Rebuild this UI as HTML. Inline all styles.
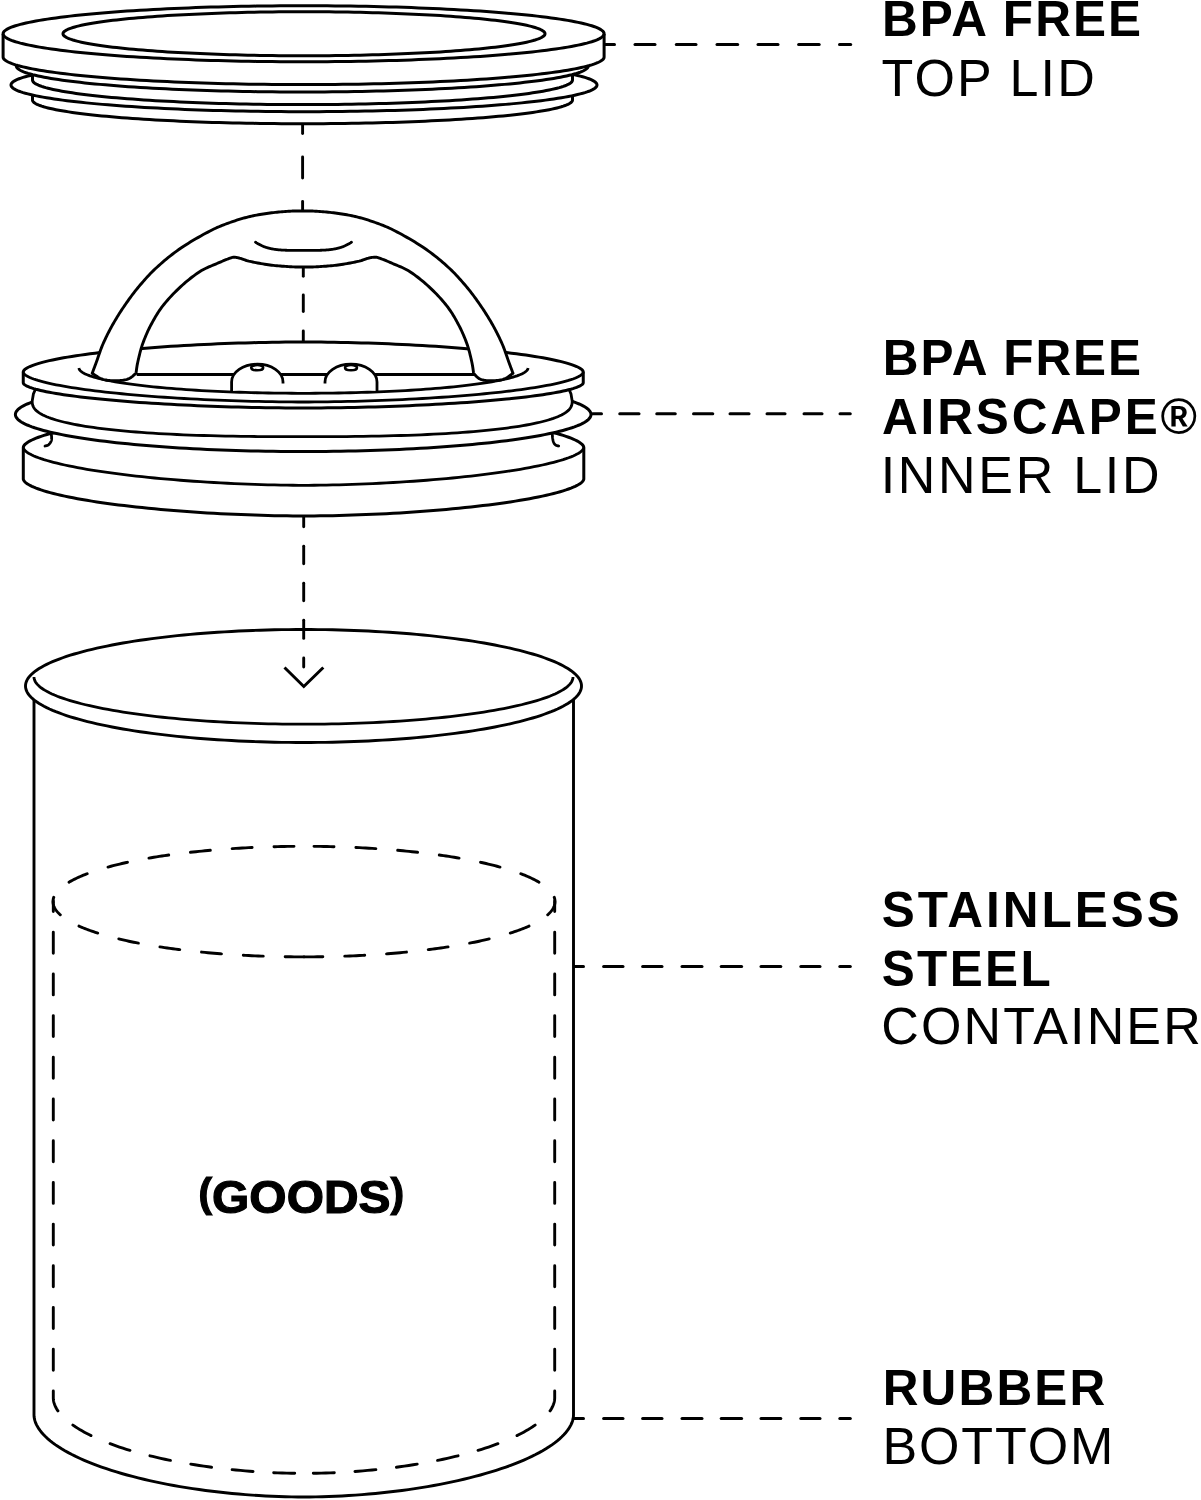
<!DOCTYPE html>
<html><head><meta charset="utf-8"><style>
html,body{margin:0;padding:0;background:#fff;}
body{width:1201px;height:1500px;overflow:hidden;font-family:"Liberation Sans",sans-serif;}
svg{display:block;}
</style></head><body>
<svg width="1201" height="1500" viewBox="0 0 1201 1500">
<defs><filter id="gs" x="-10%" y="-30%" width="120%" height="160%"><feColorMatrix type="saturate" values="0"/></filter></defs>
<rect width="1201" height="1500" fill="#fff"/>
<path d="M32.5 96 L32.59 95.38 L32.87 94.76 L33.33 94.14 L33.98 93.52 L34.81 92.9 L35.82 92.28 L37.02 91.67 L38.4 91.06 L39.96 90.46 L41.7 89.85 L43.62 89.25 L45.71 88.66 L47.99 88.07 L50.43 87.49 L53.05 86.91 L55.84 86.34 L58.8 85.78 L61.93 85.22 L65.22 84.67 L68.67 84.12 L72.29 83.59 L76.06 83.06 L79.99 82.55 L84.07 82.04 L88.29 81.54 L92.67 81.05 L97.19 80.58 L101.85 80.11 L106.65 79.65 L111.58 79.21 L116.64 78.77 L121.83 78.35 L127.15 77.94 L132.58 77.54 L138.13 77.16 L143.8 76.79 L149.57 76.43 L155.45 76.08 L161.43 75.75 L167.5 75.43 L173.67 75.13 L179.92 74.84 L186.26 74.56 L192.68 74.3 L199.18 74.06 L205.74 73.83 L212.37 73.61 L219.07 73.41 L225.82 73.23 L232.62 73.06 L239.47 72.91 L246.36 72.77 L253.3 72.65 L260.26 72.54 L267.26 72.45 L274.28 72.38 L281.32 72.32 L288.37 72.28 L295.43 72.26 L302.5 72.25 L309.57 72.26 L316.63 72.28 L323.68 72.32 L330.72 72.38 L337.74 72.45 L344.74 72.54 L351.7 72.65 L358.64 72.77 L365.53 72.91 L372.38 73.06 L379.18 73.23 L385.93 73.41 L392.63 73.61 L399.26 73.83 L405.82 74.06 L412.32 74.3 L418.74 74.56 L425.08 74.84 L431.33 75.13 L437.5 75.43 L443.57 75.75 L449.55 76.08 L455.43 76.43 L461.2 76.79 L466.87 77.16 L472.42 77.54 L477.85 77.94 L483.17 78.35 L488.36 78.77 L493.42 79.21 L498.35 79.65 L503.15 80.11 L507.81 80.58 L512.33 81.05 L516.71 81.54 L520.93 82.04 L525.01 82.55 L528.94 83.06 L532.71 83.59 L536.33 84.12 L539.78 84.67 L543.07 85.22 L546.2 85.78 L549.16 86.34 L551.95 86.91 L554.57 87.49 L557.01 88.07 L559.29 88.66 L561.38 89.25 L563.3 89.85 L565.04 90.46 L566.6 91.06 L567.98 91.67 L569.18 92.28 L570.19 92.9 L571.02 93.52 L571.67 94.14 L572.13 94.76 L572.41 95.38 L572.5 96 L572.5 100 L572.41 100.62 L572.13 101.24 L571.67 101.86 L571.02 102.48 L570.19 103.1 L569.18 103.72 L567.98 104.33 L566.6 104.94 L565.04 105.54 L563.3 106.15 L561.38 106.75 L559.29 107.34 L557.01 107.93 L554.57 108.51 L551.95 109.09 L549.16 109.66 L546.2 110.22 L543.07 110.78 L539.78 111.33 L536.33 111.88 L532.71 112.41 L528.94 112.94 L525.01 113.45 L520.93 113.96 L516.71 114.46 L512.33 114.95 L507.81 115.42 L503.15 115.89 L498.35 116.35 L493.42 116.79 L488.36 117.23 L483.17 117.65 L477.85 118.06 L472.42 118.46 L466.87 118.84 L461.2 119.21 L455.43 119.57 L449.55 119.92 L443.57 120.25 L437.5 120.57 L431.33 120.87 L425.08 121.16 L418.74 121.44 L412.32 121.7 L405.82 121.94 L399.26 122.17 L392.63 122.39 L385.93 122.59 L379.18 122.77 L372.38 122.94 L365.53 123.09 L358.64 123.23 L351.7 123.35 L344.74 123.46 L337.74 123.55 L330.72 123.62 L323.68 123.68 L316.63 123.72 L309.57 123.74 L302.5 123.75 L295.43 123.74 L288.37 123.72 L281.32 123.68 L274.28 123.62 L267.26 123.55 L260.26 123.46 L253.3 123.35 L246.36 123.23 L239.47 123.09 L232.62 122.94 L225.82 122.77 L219.07 122.59 L212.37 122.39 L205.74 122.17 L199.18 121.94 L192.68 121.7 L186.26 121.44 L179.92 121.16 L173.67 120.87 L167.5 120.57 L161.43 120.25 L155.45 119.92 L149.57 119.57 L143.8 119.21 L138.13 118.84 L132.58 118.46 L127.15 118.06 L121.83 117.65 L116.64 117.23 L111.58 116.79 L106.65 116.35 L101.85 115.89 L97.19 115.42 L92.67 114.95 L88.29 114.46 L84.07 113.96 L79.99 113.45 L76.06 112.94 L72.29 112.41 L68.67 111.88 L65.22 111.33 L61.93 110.78 L58.8 110.22 L55.84 109.66 L53.05 109.09 L50.43 108.51 L47.99 107.93 L45.71 107.34 L43.62 106.75 L41.7 106.15 L39.96 105.54 L38.4 104.94 L37.02 104.33 L35.82 103.72 L34.81 103.1 L33.98 102.48 L33.33 101.86 L32.87 101.24 L32.59 100.62 L32.5 100Z" fill="#fff" stroke="#000" stroke-width="3.0" />
<path d="M597 85 L596.9 85.7 L596.6 86.4 L596.1 87.09 L595.39 87.79 L594.49 88.49 L593.39 89.18 L592.09 89.87 L590.6 90.55 L588.9 91.23 L587.02 91.91 L584.93 92.58 L582.66 93.25 L580.19 93.91 L577.54 94.57 L574.7 95.22 L571.67 95.86 L568.46 96.49 L565.06 97.12 L561.49 97.74 L557.75 98.35 L553.82 98.95 L549.73 99.54 L545.47 100.12 L541.04 100.69 L536.45 101.25 L531.7 101.8 L526.8 102.34 L521.74 102.87 L516.53 103.38 L511.18 103.88 L505.69 104.37 L500.06 104.84 L494.29 105.3 L488.39 105.75 L482.37 106.18 L476.22 106.6 L469.96 107 L463.58 107.39 L457.09 107.77 L450.5 108.12 L443.81 108.46 L437.02 108.79 L430.14 109.1 L423.17 109.39 L416.13 109.67 L409 109.93 L401.81 110.17 L394.54 110.39 L387.22 110.6 L379.83 110.79 L372.4 110.96 L364.92 111.12 L357.4 111.25 L349.84 111.37 L342.24 111.47 L334.63 111.55 L326.99 111.62 L319.33 111.66 L311.67 111.69 L304 111.7 L296.33 111.69 L288.67 111.66 L281.01 111.62 L273.37 111.55 L265.76 111.47 L258.16 111.37 L250.6 111.25 L243.08 111.12 L235.6 110.96 L228.17 110.79 L220.78 110.6 L213.46 110.39 L206.19 110.17 L199 109.93 L191.87 109.67 L184.83 109.39 L177.86 109.1 L170.98 108.79 L164.19 108.46 L157.5 108.12 L150.91 107.77 L144.42 107.39 L138.04 107 L131.78 106.6 L125.63 106.18 L119.61 105.75 L113.71 105.3 L107.94 104.84 L102.31 104.37 L96.82 103.88 L91.47 103.38 L86.26 102.87 L81.2 102.34 L76.3 101.8 L71.55 101.25 L66.96 100.69 L62.53 100.12 L58.27 99.54 L54.18 98.95 L50.25 98.35 L46.51 97.74 L42.94 97.12 L39.54 96.49 L36.33 95.86 L33.3 95.22 L30.46 94.57 L27.81 93.91 L25.34 93.25 L23.07 92.58 L20.98 91.91 L19.1 91.23 L17.4 90.55 L15.91 89.87 L14.61 89.18 L13.51 88.49 L12.61 87.79 L11.9 87.09 L11.4 86.4 L11.1 85.7 L11 85 L11.1 84.3 L11.4 83.6 L11.9 82.91 L12.61 82.21 L13.51 81.51 L14.61 80.82 L15.91 80.13 L17.4 79.45 L19.1 78.77 L20.98 78.09 L23.07 77.42 L25.34 76.75 L27.81 76.09 L30.46 75.43 L33.3 74.78 L36.33 74.14 L39.54 73.51 L42.94 72.88 L46.51 72.26 L50.25 71.65 L54.18 71.05 L58.27 70.46 L62.53 69.88 L66.96 69.31 L71.55 68.75 L76.3 68.2 L81.2 67.66 L86.26 67.13 L91.47 66.62 L96.82 66.12 L102.31 65.63 L107.94 65.16 L113.71 64.7 L119.61 64.25 L125.63 63.82 L131.78 63.4 L138.04 63 L144.42 62.61 L150.91 62.23 L157.5 61.88 L164.19 61.54 L170.98 61.21 L177.86 60.9 L184.83 60.61 L191.87 60.33 L199 60.07 L206.19 59.83 L213.46 59.61 L220.78 59.4 L228.17 59.21 L235.6 59.04 L243.08 58.88 L250.6 58.75 L258.16 58.63 L265.76 58.53 L273.37 58.45 L281.01 58.38 L288.67 58.34 L296.33 58.31 L304 58.3 L311.67 58.31 L319.33 58.34 L326.99 58.38 L334.63 58.45 L342.24 58.53 L349.84 58.63 L357.4 58.75 L364.92 58.88 L372.4 59.04 L379.83 59.21 L387.22 59.4 L394.54 59.61 L401.81 59.83 L409 60.07 L416.13 60.33 L423.17 60.61 L430.14 60.9 L437.02 61.21 L443.81 61.54 L450.5 61.88 L457.09 62.23 L463.58 62.61 L469.96 63 L476.22 63.4 L482.37 63.82 L488.39 64.25 L494.29 64.7 L500.06 65.16 L505.69 65.63 L511.18 66.12 L516.53 66.62 L521.74 67.13 L526.8 67.66 L531.7 68.2 L536.45 68.75 L541.04 69.31 L545.47 69.88 L549.73 70.46 L553.82 71.05 L557.75 71.65 L561.49 72.26 L565.06 72.88 L568.46 73.51 L571.67 74.14 L574.7 74.78 L577.54 75.43 L580.19 76.09 L582.66 76.75 L584.93 77.42 L587.02 78.09 L588.9 78.77 L590.6 79.45 L592.09 80.13 L593.39 80.82 L594.49 81.51 L595.39 82.21 L596.1 82.91 L596.6 83.6 L596.9 84.3 L597 85Z" fill="#fff" stroke="#000" stroke-width="3.0" />
<path d="M32.5 75 L32.59 74.36 L32.87 73.71 L33.33 73.07 L33.98 72.43 L34.81 71.79 L35.82 71.15 L37.02 70.52 L38.4 69.89 L39.96 69.26 L41.7 68.63 L43.62 68.01 L45.71 67.4 L47.99 66.79 L50.43 66.18 L53.05 65.59 L55.84 64.99 L58.8 64.41 L61.93 63.83 L65.22 63.26 L68.67 62.7 L72.29 62.15 L76.06 61.6 L79.99 61.07 L84.07 60.54 L88.29 60.02 L92.67 59.52 L97.19 59.02 L101.85 58.54 L106.65 58.07 L111.58 57.61 L116.64 57.16 L121.83 56.72 L127.15 56.29 L132.58 55.88 L138.13 55.48 L143.8 55.1 L149.57 54.73 L155.45 54.37 L161.43 54.03 L167.5 53.7 L173.67 53.38 L179.92 53.08 L186.26 52.8 L192.68 52.53 L199.18 52.27 L205.74 52.03 L212.37 51.81 L219.07 51.6 L225.82 51.41 L232.62 51.24 L239.47 51.08 L246.36 50.94 L253.3 50.81 L260.26 50.7 L267.26 50.61 L274.28 50.53 L281.32 50.48 L288.37 50.43 L295.43 50.41 L302.5 50.4 L309.57 50.41 L316.63 50.43 L323.68 50.48 L330.72 50.53 L337.74 50.61 L344.74 50.7 L351.7 50.81 L358.64 50.94 L365.53 51.08 L372.38 51.24 L379.18 51.41 L385.93 51.6 L392.63 51.81 L399.26 52.03 L405.82 52.27 L412.32 52.53 L418.74 52.8 L425.08 53.08 L431.33 53.38 L437.5 53.7 L443.57 54.03 L449.55 54.37 L455.43 54.73 L461.2 55.1 L466.87 55.48 L472.42 55.88 L477.85 56.29 L483.17 56.72 L488.36 57.16 L493.42 57.61 L498.35 58.07 L503.15 58.54 L507.81 59.02 L512.33 59.52 L516.71 60.02 L520.93 60.54 L525.01 61.07 L528.94 61.6 L532.71 62.15 L536.33 62.7 L539.78 63.26 L543.07 63.83 L546.2 64.41 L549.16 64.99 L551.95 65.59 L554.57 66.18 L557.01 66.79 L559.29 67.4 L561.38 68.01 L563.3 68.63 L565.04 69.26 L566.6 69.89 L567.98 70.52 L569.18 71.15 L570.19 71.79 L571.02 72.43 L571.67 73.07 L572.13 73.71 L572.41 74.36 L572.5 75 L572.5 80 L572.41 80.64 L572.13 81.29 L571.67 81.93 L571.02 82.57 L570.19 83.21 L569.18 83.85 L567.98 84.48 L566.6 85.11 L565.04 85.74 L563.3 86.37 L561.38 86.99 L559.29 87.6 L557.01 88.21 L554.57 88.82 L551.95 89.41 L549.16 90.01 L546.2 90.59 L543.07 91.17 L539.78 91.74 L536.33 92.3 L532.71 92.85 L528.94 93.4 L525.01 93.93 L520.93 94.46 L516.71 94.98 L512.33 95.48 L507.81 95.98 L503.15 96.46 L498.35 96.93 L493.42 97.39 L488.36 97.84 L483.17 98.28 L477.85 98.71 L472.42 99.12 L466.87 99.52 L461.2 99.9 L455.43 100.27 L449.55 100.63 L443.57 100.97 L437.5 101.3 L431.33 101.62 L425.08 101.92 L418.74 102.2 L412.32 102.47 L405.82 102.73 L399.26 102.97 L392.63 103.19 L385.93 103.4 L379.18 103.59 L372.38 103.76 L365.53 103.92 L358.64 104.06 L351.7 104.19 L344.74 104.3 L337.74 104.39 L330.72 104.47 L323.68 104.52 L316.63 104.57 L309.57 104.59 L302.5 104.6 L295.43 104.59 L288.37 104.57 L281.32 104.52 L274.28 104.47 L267.26 104.39 L260.26 104.3 L253.3 104.19 L246.36 104.06 L239.47 103.92 L232.62 103.76 L225.82 103.59 L219.07 103.4 L212.37 103.19 L205.74 102.97 L199.18 102.73 L192.68 102.47 L186.26 102.2 L179.92 101.92 L173.67 101.62 L167.5 101.3 L161.43 100.97 L155.45 100.63 L149.57 100.27 L143.8 99.9 L138.13 99.52 L132.58 99.12 L127.15 98.71 L121.83 98.28 L116.64 97.84 L111.58 97.39 L106.65 96.93 L101.85 96.46 L97.19 95.98 L92.67 95.48 L88.29 94.98 L84.07 94.46 L79.99 93.93 L76.06 93.4 L72.29 92.85 L68.67 92.3 L65.22 91.74 L61.93 91.17 L58.8 90.59 L55.84 90.01 L53.05 89.41 L50.43 88.82 L47.99 88.21 L45.71 87.6 L43.62 86.99 L41.7 86.37 L39.96 85.74 L38.4 85.11 L37.02 84.48 L35.82 83.85 L34.81 83.21 L33.98 82.57 L33.33 81.93 L32.87 81.29 L32.59 80.64 L32.5 80Z" fill="#fff" stroke="#000" stroke-width="3.0" />
<path d="M588.3 66 L588.2 66.68 L587.91 67.36 L587.42 68.04 L586.73 68.72 L585.85 69.39 L584.78 70.07 L583.51 70.74 L582.05 71.41 L580.4 72.07 L578.55 72.73 L576.52 73.38 L574.3 74.03 L571.9 74.68 L569.3 75.32 L566.53 75.95 L563.57 76.58 L560.44 77.19 L557.13 77.8 L553.64 78.41 L549.98 79 L546.16 79.58 L542.16 80.16 L538 80.73 L533.68 81.28 L529.2 81.83 L524.56 82.36 L519.78 82.89 L514.84 83.4 L509.76 83.9 L504.53 84.38 L499.17 84.86 L493.67 85.32 L488.04 85.77 L482.29 86.21 L476.41 86.63 L470.41 87.03 L464.29 87.43 L458.07 87.81 L451.73 88.17 L445.3 88.52 L438.77 88.85 L432.14 89.17 L425.43 89.47 L418.63 89.75 L411.75 90.02 L404.79 90.27 L397.77 90.51 L390.68 90.73 L383.53 90.93 L376.32 91.11 L369.07 91.28 L361.76 91.43 L354.42 91.56 L347.04 91.68 L339.63 91.78 L332.2 91.86 L324.74 91.92 L317.27 91.96 L309.79 91.99 L302.3 92 L294.81 91.99 L287.33 91.96 L279.86 91.92 L272.4 91.86 L264.97 91.78 L257.56 91.68 L250.18 91.56 L242.84 91.43 L235.53 91.28 L228.28 91.11 L221.07 90.93 L213.92 90.73 L206.83 90.51 L199.81 90.27 L192.85 90.02 L185.97 89.75 L179.17 89.47 L172.46 89.17 L165.83 88.85 L159.3 88.52 L152.87 88.17 L146.53 87.81 L140.31 87.43 L134.19 87.03 L128.19 86.63 L122.31 86.21 L116.56 85.77 L110.93 85.32 L105.43 84.86 L100.07 84.38 L94.84 83.9 L89.76 83.4 L84.82 82.89 L80.04 82.36 L75.4 81.83 L70.92 81.28 L66.6 80.73 L62.44 80.16 L58.44 79.58 L54.62 79 L50.96 78.41 L47.47 77.8 L44.16 77.19 L41.03 76.58 L38.07 75.95 L35.3 75.32 L32.7 74.68 L30.3 74.03 L28.08 73.38 L26.05 72.73 L24.2 72.07 L22.55 71.41 L21.09 70.74 L19.82 70.07 L18.75 69.39 L17.87 68.72 L17.18 68.04 L16.69 67.36 L16.4 66.68 L16.3 66 L16.4 65.32 L16.69 64.64 L17.18 63.96 L17.87 63.28 L18.75 62.61 L19.82 61.93 L21.09 61.26 L22.55 60.59 L24.2 59.93 L26.05 59.27 L28.08 58.62 L30.3 57.97 L32.7 57.32 L35.3 56.68 L38.07 56.05 L41.03 55.42 L44.16 54.81 L47.47 54.2 L50.96 53.59 L54.62 53 L58.44 52.42 L62.44 51.84 L66.6 51.27 L70.92 50.72 L75.4 50.17 L80.04 49.64 L84.82 49.11 L89.76 48.6 L94.84 48.1 L100.07 47.62 L105.43 47.14 L110.93 46.68 L116.56 46.23 L122.31 45.79 L128.19 45.37 L134.19 44.97 L140.31 44.57 L146.53 44.19 L152.87 43.83 L159.3 43.48 L165.83 43.15 L172.46 42.83 L179.17 42.53 L185.97 42.25 L192.85 41.98 L199.81 41.73 L206.83 41.49 L213.92 41.27 L221.07 41.07 L228.28 40.89 L235.53 40.72 L242.84 40.57 L250.18 40.44 L257.56 40.32 L264.97 40.22 L272.4 40.14 L279.86 40.08 L287.33 40.04 L294.81 40.01 L302.3 40 L309.79 40.01 L317.27 40.04 L324.74 40.08 L332.2 40.14 L339.63 40.22 L347.04 40.32 L354.42 40.44 L361.76 40.57 L369.07 40.72 L376.32 40.89 L383.53 41.07 L390.68 41.27 L397.77 41.49 L404.79 41.73 L411.75 41.98 L418.63 42.25 L425.43 42.53 L432.14 42.83 L438.77 43.15 L445.3 43.48 L451.73 43.83 L458.07 44.19 L464.29 44.57 L470.41 44.97 L476.41 45.37 L482.29 45.79 L488.04 46.23 L493.67 46.68 L499.17 47.14 L504.53 47.62 L509.76 48.1 L514.84 48.6 L519.78 49.11 L524.56 49.64 L529.2 50.17 L533.68 50.72 L538 51.27 L542.16 51.84 L546.16 52.42 L549.98 53 L553.64 53.59 L557.13 54.2 L560.44 54.81 L563.57 55.42 L566.53 56.05 L569.3 56.68 L571.9 57.32 L574.3 57.97 L576.52 58.62 L578.55 59.27 L580.4 59.93 L582.05 60.59 L583.51 61.26 L584.78 61.93 L585.85 62.61 L586.73 63.28 L587.42 63.96 L587.91 64.64 L588.2 65.32 L588.3 66Z" fill="#fff" stroke="#000" stroke-width="3.0" />
<path d="M3.1 33.75 L3.2 33.02 L3.51 32.28 L4.03 31.55 L4.75 30.82 L5.67 30.1 L6.8 29.37 L8.13 28.65 L9.67 27.93 L11.4 27.21 L13.34 26.5 L15.47 25.8 L17.81 25.1 L20.34 24.4 L23.06 23.72 L25.97 23.03 L29.08 22.36 L32.37 21.7 L35.85 21.04 L39.52 20.39 L43.36 19.75 L47.38 19.12 L51.58 18.5 L55.95 17.89 L60.49 17.29 L65.2 16.7 L70.07 16.13 L75.1 15.57 L80.28 15.01 L85.63 14.48 L91.11 13.95 L96.75 13.44 L102.53 12.94 L108.44 12.46 L114.49 11.99 L120.67 11.54 L126.97 11.1 L133.39 10.67 L139.94 10.27 L146.59 9.88 L153.35 9.5 L160.21 9.14 L167.18 8.8 L174.23 8.48 L181.38 8.17 L188.6 7.88 L195.91 7.61 L203.29 7.36 L210.74 7.12 L218.25 6.9 L225.82 6.7 L233.45 6.52 L241.12 6.36 L248.84 6.22 L256.59 6.09 L264.38 5.99 L272.19 5.9 L280.02 5.84 L287.87 5.79 L295.73 5.76 L303.6 5.75 L311.47 5.76 L319.33 5.79 L327.18 5.84 L335.01 5.9 L342.82 5.99 L350.61 6.09 L358.36 6.22 L366.08 6.36 L373.75 6.52 L381.38 6.7 L388.95 6.9 L396.46 7.12 L403.91 7.36 L411.29 7.61 L418.6 7.88 L425.82 8.17 L432.97 8.48 L440.02 8.8 L446.99 9.14 L453.85 9.5 L460.61 9.88 L467.26 10.27 L473.81 10.67 L480.23 11.1 L486.53 11.54 L492.71 11.99 L498.76 12.46 L504.67 12.94 L510.45 13.44 L516.09 13.95 L521.57 14.48 L526.92 15.01 L532.1 15.57 L537.13 16.13 L542 16.7 L546.71 17.29 L551.25 17.89 L555.62 18.5 L559.82 19.12 L563.84 19.75 L567.68 20.39 L571.35 21.04 L574.83 21.7 L578.12 22.36 L581.23 23.03 L584.14 23.72 L586.86 24.4 L589.39 25.1 L591.73 25.8 L593.86 26.5 L595.8 27.21 L597.53 27.93 L599.07 28.65 L600.4 29.37 L601.53 30.1 L602.45 30.82 L603.17 31.55 L603.69 32.28 L604 33.02 L604.1 33.75 L604.1 57 L604 57.72 L603.69 58.44 L603.17 59.17 L602.45 59.88 L601.53 60.6 L600.4 61.32 L599.07 62.03 L597.53 62.74 L595.8 63.44 L593.86 64.14 L591.73 64.84 L589.39 65.53 L586.86 66.21 L584.14 66.89 L581.23 67.56 L578.12 68.23 L574.83 68.88 L571.35 69.53 L567.68 70.17 L563.84 70.8 L559.82 71.42 L555.62 72.03 L551.25 72.63 L546.71 73.22 L542 73.8 L537.13 74.37 L532.1 74.92 L526.92 75.47 L521.57 76 L516.09 76.52 L510.45 77.02 L504.67 77.51 L498.76 77.99 L492.71 78.45 L486.53 78.9 L480.23 79.33 L473.81 79.75 L467.26 80.15 L460.61 80.53 L453.85 80.9 L446.99 81.26 L440.02 81.59 L432.97 81.91 L425.82 82.21 L418.6 82.5 L411.29 82.77 L403.91 83.02 L396.46 83.25 L388.95 83.46 L381.38 83.66 L373.75 83.84 L366.08 84 L358.36 84.14 L350.61 84.26 L342.82 84.36 L335.01 84.45 L327.18 84.51 L319.33 84.56 L311.47 84.59 L303.6 84.6 L295.73 84.59 L287.87 84.56 L280.02 84.51 L272.19 84.45 L264.38 84.36 L256.59 84.26 L248.84 84.14 L241.12 84 L233.45 83.84 L225.82 83.66 L218.25 83.46 L210.74 83.25 L203.29 83.02 L195.91 82.77 L188.6 82.5 L181.38 82.21 L174.23 81.91 L167.18 81.59 L160.21 81.26 L153.35 80.9 L146.59 80.53 L139.94 80.15 L133.39 79.75 L126.97 79.33 L120.67 78.9 L114.49 78.45 L108.44 77.99 L102.53 77.51 L96.75 77.02 L91.11 76.52 L85.63 76 L80.28 75.47 L75.1 74.92 L70.07 74.37 L65.2 73.8 L60.49 73.22 L55.95 72.63 L51.58 72.03 L47.38 71.42 L43.36 70.8 L39.52 70.17 L35.85 69.53 L32.37 68.88 L29.08 68.23 L25.97 67.56 L23.06 66.89 L20.34 66.21 L17.81 65.53 L15.47 64.84 L13.34 64.14 L11.4 63.44 L9.67 62.74 L8.13 62.03 L6.8 61.32 L5.67 60.6 L4.75 59.88 L4.03 59.17 L3.51 58.44 L3.2 57.72 L3.1 57Z" fill="#fff" stroke="#000" stroke-width="3.0" />
<path d="M604.1 33.75 L604 34.48 L603.69 35.22 L603.17 35.95 L602.45 36.68 L601.53 37.4 L600.4 38.13 L599.07 38.85 L597.53 39.57 L595.8 40.29 L593.86 41 L591.73 41.7 L589.39 42.4 L586.86 43.1 L584.14 43.78 L581.23 44.47 L578.12 45.14 L574.83 45.8 L571.35 46.46 L567.68 47.11 L563.84 47.75 L559.82 48.38 L555.62 49 L551.25 49.61 L546.71 50.21 L542 50.8 L537.13 51.37 L532.1 51.93 L526.92 52.49 L521.57 53.02 L516.09 53.55 L510.45 54.06 L504.67 54.56 L498.76 55.04 L492.71 55.51 L486.53 55.96 L480.23 56.4 L473.81 56.83 L467.26 57.23 L460.61 57.62 L453.85 58 L446.99 58.36 L440.02 58.7 L432.97 59.02 L425.82 59.33 L418.6 59.62 L411.29 59.89 L403.91 60.14 L396.46 60.38 L388.95 60.6 L381.38 60.8 L373.75 60.98 L366.08 61.14 L358.36 61.28 L350.61 61.41 L342.82 61.51 L335.01 61.6 L327.18 61.66 L319.33 61.71 L311.47 61.74 L303.6 61.75 L295.73 61.74 L287.87 61.71 L280.02 61.66 L272.19 61.6 L264.38 61.51 L256.59 61.41 L248.84 61.28 L241.12 61.14 L233.45 60.98 L225.82 60.8 L218.25 60.6 L210.74 60.38 L203.29 60.14 L195.91 59.89 L188.6 59.62 L181.38 59.33 L174.23 59.02 L167.18 58.7 L160.21 58.36 L153.35 58 L146.59 57.62 L139.94 57.23 L133.39 56.83 L126.97 56.4 L120.67 55.96 L114.49 55.51 L108.44 55.04 L102.53 54.56 L96.75 54.06 L91.11 53.55 L85.63 53.02 L80.28 52.49 L75.1 51.93 L70.07 51.37 L65.2 50.8 L60.49 50.21 L55.95 49.61 L51.58 49 L47.38 48.38 L43.36 47.75 L39.52 47.11 L35.85 46.46 L32.37 45.8 L29.08 45.14 L25.97 44.47 L23.06 43.78 L20.34 43.1 L17.81 42.4 L15.47 41.7 L13.34 41 L11.4 40.29 L9.67 39.57 L8.13 38.85 L6.8 38.13 L5.67 37.4 L4.75 36.68 L4.03 35.95 L3.51 35.22 L3.2 34.48 L3.1 33.75" fill="none" stroke="#000" stroke-width="3.0" />
<path d="M545 33.75 L544.92 34.33 L544.67 34.9 L544.26 35.48 L543.68 36.05 L542.94 36.62 L542.03 37.19 L540.96 37.76 L539.73 38.32 L538.34 38.89 L536.79 39.44 L535.08 40 L533.2 40.55 L531.18 41.09 L528.99 41.63 L526.65 42.17 L524.16 42.7 L521.52 43.22 L518.73 43.74 L515.79 44.25 L512.71 44.75 L509.49 45.24 L506.12 45.73 L502.61 46.21 L498.97 46.68 L495.2 47.14 L491.29 47.6 L487.26 48.04 L483.1 48.47 L478.82 48.89 L474.41 49.31 L469.89 49.71 L465.26 50.1 L460.52 50.48 L455.67 50.85 L450.71 51.2 L445.66 51.55 L440.5 51.88 L435.26 52.2 L429.92 52.51 L424.5 52.8 L419 53.08 L413.41 53.35 L407.75 53.61 L402.02 53.85 L396.23 54.08 L390.37 54.29 L384.45 54.49 L378.47 54.67 L372.45 54.84 L366.38 55 L360.26 55.14 L354.11 55.27 L347.92 55.38 L341.7 55.48 L335.46 55.56 L329.19 55.63 L322.91 55.68 L316.61 55.72 L310.31 55.74 L304 55.75 L297.69 55.74 L291.39 55.72 L285.09 55.68 L278.81 55.63 L272.54 55.56 L266.3 55.48 L260.08 55.38 L253.89 55.27 L247.74 55.14 L241.62 55 L235.55 54.84 L229.53 54.67 L223.55 54.49 L217.63 54.29 L211.77 54.08 L205.98 53.85 L200.25 53.61 L194.59 53.35 L189 53.08 L183.5 52.8 L178.08 52.51 L172.74 52.2 L167.5 51.88 L162.34 51.55 L157.29 51.2 L152.33 50.85 L147.48 50.48 L142.74 50.1 L138.11 49.71 L133.59 49.31 L129.18 48.89 L124.9 48.47 L120.74 48.04 L116.71 47.6 L112.8 47.14 L109.03 46.68 L105.39 46.21 L101.88 45.73 L98.51 45.24 L95.29 44.75 L92.21 44.25 L89.27 43.74 L86.48 43.22 L83.84 42.7 L81.35 42.17 L79.01 41.63 L76.82 41.09 L74.8 40.55 L72.92 40 L71.21 39.44 L69.66 38.89 L68.27 38.32 L67.04 37.76 L65.97 37.19 L65.06 36.62 L64.32 36.05 L63.74 35.48 L63.33 34.9 L63.08 34.33 L63 33.75 L63.08 33.17 L63.33 32.6 L63.74 32.02 L64.32 31.45 L65.06 30.88 L65.97 30.31 L67.04 29.74 L68.27 29.18 L69.66 28.61 L71.21 28.06 L72.92 27.5 L74.8 26.95 L76.82 26.41 L79.01 25.87 L81.35 25.33 L83.84 24.8 L86.48 24.28 L89.27 23.76 L92.21 23.25 L95.29 22.75 L98.51 22.26 L101.88 21.77 L105.39 21.29 L109.03 20.82 L112.8 20.36 L116.71 19.9 L120.74 19.46 L124.9 19.03 L129.18 18.61 L133.59 18.19 L138.11 17.79 L142.74 17.4 L147.48 17.02 L152.33 16.65 L157.29 16.3 L162.34 15.95 L167.5 15.62 L172.74 15.3 L178.08 14.99 L183.5 14.7 L189 14.42 L194.59 14.15 L200.25 13.89 L205.98 13.65 L211.77 13.42 L217.63 13.21 L223.55 13.01 L229.53 12.83 L235.55 12.66 L241.62 12.5 L247.74 12.36 L253.89 12.23 L260.08 12.12 L266.3 12.02 L272.54 11.94 L278.81 11.87 L285.09 11.82 L291.39 11.78 L297.69 11.76 L304 11.75 L310.31 11.76 L316.61 11.78 L322.91 11.82 L329.19 11.87 L335.46 11.94 L341.7 12.02 L347.92 12.12 L354.11 12.23 L360.26 12.36 L366.38 12.5 L372.45 12.66 L378.47 12.83 L384.45 13.01 L390.37 13.21 L396.23 13.42 L402.02 13.65 L407.75 13.89 L413.41 14.15 L419 14.42 L424.5 14.7 L429.92 14.99 L435.26 15.3 L440.5 15.62 L445.66 15.95 L450.71 16.3 L455.67 16.65 L460.52 17.02 L465.26 17.4 L469.89 17.79 L474.41 18.19 L478.82 18.61 L483.1 19.03 L487.26 19.46 L491.29 19.9 L495.2 20.36 L498.97 20.82 L502.61 21.29 L506.12 21.77 L509.49 22.26 L512.71 22.75 L515.79 23.25 L518.73 23.76 L521.52 24.28 L524.16 24.8 L526.65 25.33 L528.99 25.87 L531.18 26.41 L533.2 26.95 L535.08 27.5 L536.79 28.06 L538.34 28.61 L539.73 29.18 L540.96 29.74 L542.03 30.31 L542.94 30.88 L543.68 31.45 L544.26 32.02 L544.67 32.6 L544.92 33.17 L545 33.75Z" fill="#fff" stroke="#000" stroke-width="3.0" />
<path d="M23.3 447.5 L23.41 446.84 L23.73 446.07 L24.26 445.26 L25.01 444.43 L25.96 443.57 L27.13 442.69 L28.51 441.8 L30.1 440.9 L31.89 439.99 L33.89 439.08 L36.09 438.17 L38.5 437.25 L41.1 436.33 L43.9 435.41 L46.9 434.5 L50.09 433.59 L53.46 432.68 L57.03 431.78 L60.77 430.89 L64.69 430 L68.79 429.12 L73.06 428.26 L77.5 427.4 L82.1 426.56 L86.86 425.72 L91.77 424.9 L96.83 424.1 L102.04 423.31 L107.39 422.54 L112.87 421.78 L118.48 421.04 L124.21 420.32 L130.07 419.62 L136.03 418.94 L142.1 418.27 L148.27 417.63 L154.53 417.01 L160.88 416.41 L167.31 415.84 L173.81 415.28 L180.38 414.75 L187.01 414.25 L193.68 413.77 L200.4 413.31 L207.16 412.88 L213.94 412.48 L220.74 412.1 L227.54 411.75 L234.34 411.43 L241.13 411.13 L247.89 410.86 L254.61 410.62 L261.28 410.4 L267.88 410.22 L274.38 410.06 L280.76 409.93 L286.98 409.83 L292.98 409.76 L298.66 409.71 L303.55 409.7 L308.44 409.71 L314.12 409.76 L320.12 409.83 L326.34 409.93 L332.72 410.06 L339.22 410.22 L345.82 410.4 L352.49 410.62 L359.21 410.86 L365.97 411.13 L372.76 411.43 L379.56 411.75 L386.36 412.1 L393.16 412.48 L399.94 412.88 L406.7 413.31 L413.42 413.77 L420.09 414.25 L426.72 414.75 L433.29 415.28 L439.79 415.84 L446.22 416.41 L452.57 417.01 L458.83 417.63 L465 418.27 L471.07 418.94 L477.03 419.62 L482.89 420.32 L488.62 421.04 L494.23 421.78 L499.71 422.54 L505.06 423.31 L510.27 424.1 L515.33 424.9 L520.24 425.72 L525 426.56 L529.6 427.4 L534.04 428.26 L538.31 429.12 L542.41 430 L546.33 430.89 L550.07 431.78 L553.64 432.68 L557.01 433.59 L560.2 434.5 L563.2 435.41 L566 436.33 L568.6 437.25 L571.01 438.17 L573.21 439.08 L575.21 439.99 L577 440.9 L578.59 441.8 L579.97 442.69 L581.14 443.57 L582.09 444.43 L582.84 445.26 L583.37 446.07 L583.69 446.84 L583.8 447.5 L583.8 479 L583.69 479.65 L583.37 480.4 L582.84 481.19 L582.09 482.01 L581.14 482.85 L579.97 483.71 L578.59 484.58 L577 485.46 L575.21 486.35 L573.21 487.24 L571.01 488.14 L568.6 489.03 L566 489.93 L563.2 490.83 L560.2 491.73 L557.01 492.62 L553.64 493.5 L550.07 494.39 L546.33 495.26 L542.41 496.13 L538.31 496.99 L534.04 497.84 L529.6 498.67 L525 499.5 L520.24 500.32 L515.33 501.12 L510.27 501.9 L505.06 502.68 L499.71 503.43 L494.23 504.17 L488.62 504.9 L482.89 505.6 L477.03 506.29 L471.07 506.96 L465 507.61 L458.83 508.24 L452.57 508.84 L446.22 509.43 L439.79 509.99 L433.29 510.53 L426.72 511.05 L420.09 511.55 L413.42 512.02 L406.7 512.46 L399.94 512.88 L393.16 513.28 L386.36 513.65 L379.56 513.99 L372.76 514.31 L365.97 514.6 L359.21 514.87 L352.49 515.1 L345.82 515.31 L339.22 515.49 L332.72 515.65 L326.34 515.77 L320.12 515.87 L314.12 515.94 L308.44 515.99 L303.55 516 L298.66 515.99 L292.98 515.94 L286.98 515.87 L280.76 515.77 L274.38 515.65 L267.88 515.49 L261.28 515.31 L254.61 515.1 L247.89 514.87 L241.13 514.6 L234.34 514.31 L227.54 513.99 L220.74 513.65 L213.94 513.28 L207.16 512.88 L200.4 512.46 L193.68 512.02 L187.01 511.55 L180.38 511.05 L173.81 510.53 L167.31 509.99 L160.88 509.43 L154.53 508.84 L148.27 508.24 L142.1 507.61 L136.03 506.96 L130.07 506.29 L124.21 505.6 L118.48 504.9 L112.87 504.17 L107.39 503.43 L102.04 502.68 L96.83 501.9 L91.77 501.12 L86.86 500.32 L82.1 499.5 L77.5 498.67 L73.06 497.84 L68.79 496.99 L64.69 496.13 L60.77 495.26 L57.03 494.39 L53.46 493.5 L50.09 492.62 L46.9 491.73 L43.9 490.83 L41.1 489.93 L38.5 489.03 L36.09 488.14 L33.89 487.24 L31.89 486.35 L30.1 485.46 L28.51 484.58 L27.13 483.71 L25.96 482.85 L25.01 482.01 L24.26 481.19 L23.73 480.4 L23.41 479.65 L23.3 479Z" fill="#fff" stroke="#000" stroke-width="3.0" />
<path d="M583.8 447.5 L583.69 448.16 L583.37 448.93 L582.84 449.74 L582.09 450.57 L581.14 451.43 L579.97 452.31 L578.59 453.2 L577 454.1 L575.21 455.01 L573.21 455.92 L571.01 456.83 L568.6 457.75 L566 458.67 L563.2 459.59 L560.2 460.5 L557.01 461.41 L553.64 462.32 L550.07 463.22 L546.33 464.11 L542.41 465 L538.31 465.88 L534.04 466.74 L529.6 467.6 L525 468.44 L520.24 469.28 L515.33 470.1 L510.27 470.9 L505.06 471.69 L499.71 472.46 L494.23 473.22 L488.62 473.96 L482.89 474.68 L477.03 475.38 L471.07 476.06 L465 476.73 L458.83 477.37 L452.57 477.99 L446.22 478.59 L439.79 479.16 L433.29 479.72 L426.72 480.25 L420.09 480.75 L413.42 481.23 L406.7 481.69 L399.94 482.12 L393.16 482.52 L386.36 482.9 L379.56 483.25 L372.76 483.57 L365.97 483.87 L359.21 484.14 L352.49 484.38 L345.82 484.6 L339.22 484.78 L332.72 484.94 L326.34 485.07 L320.12 485.17 L314.12 485.24 L308.44 485.29 L303.55 485.3 L298.66 485.29 L292.98 485.24 L286.98 485.17 L280.76 485.07 L274.38 484.94 L267.88 484.78 L261.28 484.6 L254.61 484.38 L247.89 484.14 L241.13 483.87 L234.34 483.57 L227.54 483.25 L220.74 482.9 L213.94 482.52 L207.16 482.12 L200.4 481.69 L193.68 481.23 L187.01 480.75 L180.38 480.25 L173.81 479.72 L167.31 479.16 L160.88 478.59 L154.53 477.99 L148.27 477.37 L142.1 476.73 L136.03 476.06 L130.07 475.38 L124.21 474.68 L118.48 473.96 L112.87 473.22 L107.39 472.46 L102.04 471.69 L96.83 470.9 L91.77 470.1 L86.86 469.28 L82.1 468.44 L77.5 467.6 L73.06 466.74 L68.79 465.88 L64.69 465 L60.77 464.11 L57.03 463.22 L53.46 462.32 L50.09 461.41 L46.9 460.5 L43.9 459.59 L41.1 458.67 L38.5 457.75 L36.09 456.83 L33.89 455.92 L31.89 455.01 L30.1 454.1 L28.51 453.2 L27.13 452.31 L25.96 451.43 L25.01 450.57 L24.26 449.74 L23.73 448.93 L23.41 448.16 L23.3 447.5" fill="none" stroke="#000" stroke-width="2.8" />
<path d="M51 433 L51.03 433.19 L51.08 433.44 L51.13 433.72 L51.19 434.04 L51.26 434.38 L51.32 434.75 L51.39 435.13 L51.45 435.52 L51.51 435.91 L51.55 436.29 L51.58 436.65 L51.6 437 L51.61 437.33 L51.62 437.67 L51.62 438 L51.63 438.34 L51.62 438.68 L51.61 439.01 L51.58 439.35 L51.54 439.68 L51.49 440.01 L51.41 440.34 L51.32 440.67 L51.2 441 L51.06 441.33 L50.89 441.68 L50.71 442.03 L50.5 442.38 L50.28 442.73 L50.04 443.08 L49.8 443.41 L49.54 443.73 L49.29 444.04 L49.02 444.32 L48.76 444.57 L48.5 444.8 L48.23 444.99 L47.92 445.16 L47.6 445.31 L47.26 445.44 L46.92 445.55 L46.58 445.64 L46.25 445.72 L45.94 445.79 L45.65 445.85 L45.39 445.9 L45.17 445.95 L45 446" fill="none" stroke="#000" stroke-width="2.8" stroke-linecap="round"/>
<path d="M552.3 434 L552.31 434.19 L552.33 434.44 L552.34 434.72 L552.36 435.04 L552.37 435.38 L552.39 435.75 L552.42 436.13 L552.44 436.52 L552.48 436.91 L552.51 437.29 L552.55 437.65 L552.6 438 L552.65 438.34 L552.7 438.68 L552.76 439.02 L552.81 439.37 L552.88 439.72 L552.94 440.06 L553.02 440.4 L553.1 440.74 L553.18 441.07 L553.28 441.39 L553.38 441.7 L553.5 442 L553.62 442.29 L553.76 442.58 L553.89 442.87 L554.04 443.15 L554.19 443.42 L554.36 443.69 L554.53 443.94 L554.7 444.19 L554.89 444.41 L555.08 444.63 L555.29 444.82 L555.5 445 L555.73 445.16 L556 445.29 L556.29 445.41 L556.6 445.52 L556.91 445.61 L557.23 445.69 L557.53 445.76 L557.83 445.81 L558.1 445.87 L558.34 445.91 L558.54 445.96 L558.7 446" fill="none" stroke="#000" stroke-width="2.8" stroke-linecap="round"/>
<path d="M591 414.5 L590.9 415.47 L590.61 416.44 L590.11 417.4 L589.42 418.37 L588.54 419.33 L587.46 420.29 L586.18 421.24 L584.71 422.19 L583.05 423.14 L581.19 424.08 L579.15 425.01 L576.91 425.93 L574.49 426.85 L571.88 427.76 L569.09 428.66 L566.12 429.55 L562.96 430.43 L559.63 431.3 L556.12 432.15 L552.44 433 L548.59 433.83 L544.57 434.65 L540.38 435.46 L536.04 436.25 L531.53 437.02 L526.86 437.78 L522.04 438.53 L517.08 439.26 L511.96 439.97 L506.71 440.66 L501.31 441.34 L495.78 442 L490.11 442.64 L484.32 443.25 L478.4 443.85 L472.36 444.43 L466.21 444.99 L459.95 445.53 L453.58 446.05 L447.1 446.54 L440.53 447.02 L433.86 447.47 L427.1 447.9 L420.26 448.3 L413.34 448.68 L406.34 449.04 L399.27 449.38 L392.14 449.69 L384.94 449.98 L377.69 450.24 L370.39 450.48 L363.04 450.69 L355.65 450.88 L348.22 451.04 L340.77 451.18 L333.28 451.3 L325.78 451.39 L318.26 451.45 L310.73 451.49 L303.2 451.5 L295.67 451.49 L288.14 451.45 L280.62 451.39 L273.12 451.3 L265.63 451.18 L258.18 451.04 L250.75 450.88 L243.36 450.69 L236.01 450.48 L228.71 450.24 L221.46 449.98 L214.26 449.69 L207.13 449.38 L200.06 449.04 L193.06 448.68 L186.14 448.3 L179.3 447.9 L172.54 447.47 L165.87 447.02 L159.3 446.54 L152.82 446.05 L146.45 445.53 L140.19 444.99 L134.04 444.43 L128 443.85 L122.08 443.25 L116.29 442.64 L110.62 442 L105.09 441.34 L99.69 440.66 L94.44 439.97 L89.32 439.26 L84.36 438.53 L79.54 437.78 L74.87 437.02 L70.36 436.25 L66.02 435.46 L61.83 434.65 L57.81 433.83 L53.96 433 L50.28 432.15 L46.77 431.3 L43.44 430.43 L40.28 429.55 L37.31 428.66 L34.52 427.76 L31.91 426.85 L29.49 425.93 L27.25 425.01 L25.21 424.08 L23.35 423.14 L21.69 422.19 L20.22 421.24 L18.94 420.29 L17.86 419.33 L16.98 418.37 L16.29 417.4 L15.79 416.44 L15.5 415.47 L15.4 414.5 L15.5 413.53 L15.79 412.56 L16.29 411.6 L16.98 410.63 L17.86 409.67 L18.94 408.71 L20.22 407.76 L21.69 406.81 L23.35 405.86 L25.21 404.92 L27.25 403.99 L29.49 403.07 L31.91 402.15 L34.52 401.24 L37.31 400.34 L40.28 399.45 L43.44 398.57 L46.77 397.7 L50.28 396.85 L53.96 396 L57.81 395.17 L61.83 394.35 L66.02 393.54 L70.36 392.75 L74.87 391.98 L79.54 391.22 L84.36 390.47 L89.32 389.74 L94.44 389.03 L99.69 388.34 L105.09 387.66 L110.62 387 L116.29 386.36 L122.08 385.75 L128 385.15 L134.04 384.57 L140.19 384.01 L146.45 383.47 L152.82 382.95 L159.3 382.46 L165.87 381.98 L172.54 381.53 L179.3 381.1 L186.14 380.7 L193.06 380.32 L200.06 379.96 L207.13 379.62 L214.26 379.31 L221.46 379.02 L228.71 378.76 L236.01 378.52 L243.36 378.31 L250.75 378.12 L258.18 377.96 L265.63 377.82 L273.12 377.7 L280.62 377.61 L288.14 377.55 L295.67 377.51 L303.2 377.5 L310.73 377.51 L318.26 377.55 L325.78 377.61 L333.28 377.7 L340.77 377.82 L348.22 377.96 L355.65 378.12 L363.04 378.31 L370.39 378.52 L377.69 378.76 L384.94 379.02 L392.14 379.31 L399.27 379.62 L406.34 379.96 L413.34 380.32 L420.26 380.7 L427.1 381.1 L433.86 381.53 L440.53 381.98 L447.1 382.46 L453.58 382.95 L459.95 383.47 L466.21 384.01 L472.36 384.57 L478.4 385.15 L484.32 385.75 L490.11 386.36 L495.78 387 L501.31 387.66 L506.71 388.34 L511.96 389.03 L517.08 389.74 L522.04 390.47 L526.86 391.22 L531.53 391.98 L536.04 392.75 L540.38 393.54 L544.57 394.35 L548.59 395.17 L552.44 396 L556.12 396.85 L559.63 397.7 L562.96 398.57 L566.12 399.45 L569.09 400.34 L571.88 401.24 L574.49 402.15 L576.91 403.07 L579.15 403.99 L581.19 404.92 L583.05 405.86 L584.71 406.81 L586.18 407.76 L587.46 408.71 L588.54 409.67 L589.42 410.63 L590.11 411.6 L590.61 412.56 L590.9 413.53 L591 414.5Z" fill="#fff" stroke="#000" stroke-width="3.0" />
<path d="M36 388 L36.09 387.27 L36.36 386.53 L36.82 385.8 L37.46 385.07 L38.28 384.35 L39.28 383.62 L40.46 382.9 L41.82 382.18 L43.36 381.46 L45.07 380.75 L46.96 380.05 L49.03 379.35 L51.27 378.65 L53.68 377.97 L56.26 377.28 L59.01 376.61 L61.93 375.95 L65.01 375.29 L68.26 374.64 L71.66 374 L75.23 373.37 L78.95 372.75 L82.82 372.14 L86.84 371.54 L91.01 370.95 L95.32 370.38 L99.78 369.82 L104.37 369.26 L109.11 368.73 L113.97 368.2 L118.96 367.69 L124.08 367.19 L129.32 366.71 L134.67 366.24 L140.15 365.79 L145.73 365.35 L151.42 364.92 L157.22 364.52 L163.11 364.13 L169.1 363.75 L175.18 363.39 L181.35 363.05 L187.6 362.73 L193.93 362.42 L200.33 362.13 L206.8 361.86 L213.34 361.61 L219.94 361.37 L226.6 361.15 L233.3 360.95 L240.06 360.77 L246.85 360.61 L253.69 360.47 L260.56 360.34 L267.45 360.24 L274.37 360.15 L281.31 360.09 L288.27 360.04 L295.23 360.01 L302.2 360 L309.17 360.01 L316.13 360.04 L323.09 360.09 L330.03 360.15 L336.95 360.24 L343.84 360.34 L350.71 360.47 L357.55 360.61 L364.34 360.77 L371.1 360.95 L377.8 361.15 L384.46 361.37 L391.06 361.61 L397.6 361.86 L404.07 362.13 L410.47 362.42 L416.8 362.73 L423.05 363.05 L429.22 363.39 L435.3 363.75 L441.29 364.13 L447.18 364.52 L452.98 364.92 L458.67 365.35 L464.25 365.79 L469.73 366.24 L475.08 366.71 L480.32 367.19 L485.44 367.69 L490.43 368.2 L495.29 368.73 L500.03 369.26 L504.62 369.82 L509.08 370.38 L513.39 370.95 L517.56 371.54 L521.58 372.14 L525.45 372.75 L529.17 373.37 L532.74 374 L536.14 374.64 L539.39 375.29 L542.47 375.95 L545.39 376.61 L548.14 377.28 L550.72 377.97 L553.13 378.65 L555.37 379.35 L557.44 380.05 L559.33 380.75 L561.04 381.46 L562.58 382.18 L563.94 382.9 L565.12 383.62 L566.12 384.35 L566.94 385.07 L567.58 385.8 L568.04 386.53 L568.31 387.27 L568.4 388 L568.4 388 L571 394 L572.2 401 L572.2 401 L572.13 402.94 L571.9 404.37 L571.53 405.66 L571.02 406.86 L570.35 408 L569.54 409.09 L568.58 410.14 L567.47 411.16 L566.22 412.15 L564.81 413.11 L563.27 414.04 L561.58 414.95 L559.74 415.84 L557.76 416.71 L555.63 417.56 L553.36 418.38 L550.95 419.19 L548.39 419.98 L545.69 420.75 L542.85 421.5 L539.87 422.24 L536.75 422.96 L533.49 423.66 L530.09 424.34 L526.56 425 L522.88 425.65 L519.07 426.28 L515.12 426.89 L511.04 427.48 L506.82 428.06 L502.47 428.61 L497.98 429.15 L493.36 429.68 L488.61 430.18 L483.72 430.66 L478.7 431.13 L473.54 431.58 L468.25 432.01 L462.83 432.43 L457.27 432.82 L451.58 433.19 L445.75 433.55 L439.78 433.89 L433.67 434.21 L427.41 434.51 L421 434.79 L414.44 435.05 L407.72 435.3 L400.84 435.52 L393.77 435.72 L386.52 435.91 L379.05 436.07 L371.36 436.22 L363.41 436.35 L355.16 436.46 L346.54 436.54 L337.44 436.61 L327.69 436.66 L316.85 436.69 L302.2 436.7 L287.55 436.69 L276.71 436.66 L266.96 436.61 L257.86 436.54 L249.24 436.46 L240.99 436.35 L233.04 436.22 L225.35 436.07 L217.88 435.91 L210.63 435.72 L203.56 435.52 L196.68 435.3 L189.96 435.05 L183.4 434.79 L176.99 434.51 L170.73 434.21 L164.62 433.89 L158.65 433.55 L152.82 433.19 L147.13 432.82 L141.57 432.43 L136.15 432.01 L130.86 431.58 L125.7 431.13 L120.68 430.66 L115.79 430.18 L111.04 429.68 L106.42 429.15 L101.93 428.61 L97.58 428.06 L93.36 427.48 L89.28 426.89 L85.33 426.28 L81.52 425.65 L77.84 425 L74.31 424.34 L70.91 423.66 L67.65 422.96 L64.53 422.24 L61.55 421.5 L58.71 420.75 L56.01 419.98 L53.45 419.19 L51.04 418.38 L48.77 417.56 L46.64 416.71 L44.66 415.84 L42.82 414.95 L41.13 414.04 L39.59 413.11 L38.18 412.15 L36.93 411.16 L35.82 410.14 L34.86 409.09 L34.05 408 L33.38 406.86 L32.87 405.66 L32.5 404.37 L32.27 402.94 L32.2 401 L32.2 401 L33.4 394 L36 388Z" fill="#fff" stroke="#000" stroke-width="2.8" />
<path d="M23.25 372 L23.35 371.42 L23.66 370.76 L24.18 370.09 L24.91 369.39 L25.84 368.68 L26.97 367.96 L28.32 367.24 L29.86 366.51 L31.6 365.78 L33.55 365.04 L35.69 364.31 L38.04 363.57 L40.57 362.84 L43.3 362.11 L46.22 361.38 L49.33 360.66 L52.62 359.94 L56.09 359.22 L59.75 358.52 L63.57 357.82 L67.58 357.13 L71.75 356.45 L76.09 355.77 L80.58 355.11 L85.24 354.46 L90.05 353.82 L95.01 353.19 L100.12 352.57 L105.36 351.97 L110.75 351.37 L116.26 350.8 L121.9 350.24 L127.66 349.69 L133.53 349.16 L139.52 348.64 L145.61 348.14 L151.8 347.66 L158.08 347.2 L164.45 346.75 L170.9 346.32 L177.43 345.91 L184.02 345.52 L190.67 345.15 L197.37 344.79 L204.13 344.46 L210.92 344.15 L217.74 343.86 L224.58 343.58 L231.44 343.33 L238.3 343.1 L245.16 342.9 L252 342.71 L258.8 342.54 L265.57 342.4 L272.26 342.28 L278.88 342.18 L285.38 342.1 L291.71 342.04 L297.79 342.01 L303.25 342 L308.71 342.01 L314.79 342.04 L321.12 342.1 L327.62 342.18 L334.24 342.28 L340.93 342.4 L347.7 342.54 L354.5 342.71 L361.34 342.9 L368.2 343.1 L375.06 343.33 L381.92 343.58 L388.76 343.86 L395.58 344.15 L402.37 344.46 L409.13 344.79 L415.83 345.15 L422.48 345.52 L429.07 345.91 L435.6 346.32 L442.05 346.75 L448.42 347.2 L454.7 347.66 L460.89 348.14 L466.98 348.64 L472.97 349.16 L478.84 349.69 L484.6 350.24 L490.24 350.8 L495.75 351.37 L501.14 351.97 L506.38 352.57 L511.49 353.19 L516.45 353.82 L521.26 354.46 L525.92 355.11 L530.41 355.77 L534.75 356.45 L538.92 357.13 L542.93 357.82 L546.75 358.52 L550.41 359.22 L553.88 359.94 L557.17 360.66 L560.28 361.38 L563.2 362.11 L565.93 362.84 L568.46 363.57 L570.81 364.31 L572.95 365.04 L574.9 365.78 L576.64 366.51 L578.18 367.24 L579.53 367.96 L580.66 368.68 L581.59 369.39 L582.32 370.09 L582.84 370.76 L583.15 371.42 L583.25 372 L583.25 382.7 L583.15 383.19 L582.84 383.74 L582.32 384.31 L581.59 384.9 L580.66 385.5 L579.53 386.11 L578.18 386.72 L576.64 387.33 L574.9 387.95 L572.95 388.57 L570.81 389.19 L568.46 389.81 L565.93 390.43 L563.2 391.04 L560.28 391.66 L557.17 392.27 L553.88 392.87 L550.41 393.47 L546.75 394.07 L542.93 394.66 L538.92 395.24 L534.75 395.82 L530.41 396.38 L525.92 396.94 L521.26 397.49 L516.45 398.04 L511.49 398.57 L506.38 399.09 L501.14 399.6 L495.75 400.09 L490.24 400.58 L484.6 401.05 L478.84 401.52 L472.97 401.96 L466.98 402.4 L460.89 402.82 L454.7 403.23 L448.42 403.62 L442.05 403.99 L435.6 404.36 L429.07 404.7 L422.48 405.03 L415.83 405.35 L409.13 405.64 L402.37 405.92 L395.58 406.19 L388.76 406.43 L381.92 406.66 L375.06 406.88 L368.2 407.07 L361.34 407.25 L354.5 407.4 L347.7 407.54 L340.93 407.66 L334.24 407.77 L327.62 407.85 L321.12 407.92 L314.79 407.96 L308.71 407.99 L303.25 408 L297.79 407.99 L291.71 407.96 L285.38 407.92 L278.88 407.85 L272.26 407.77 L265.57 407.66 L258.8 407.54 L252 407.4 L245.16 407.25 L238.3 407.07 L231.44 406.88 L224.58 406.66 L217.74 406.43 L210.92 406.19 L204.13 405.92 L197.37 405.64 L190.67 405.35 L184.02 405.03 L177.43 404.7 L170.9 404.36 L164.45 403.99 L158.08 403.62 L151.8 403.23 L145.61 402.82 L139.52 402.4 L133.53 401.96 L127.66 401.52 L121.9 401.05 L116.26 400.58 L110.75 400.09 L105.36 399.6 L100.12 399.09 L95.01 398.57 L90.05 398.04 L85.24 397.49 L80.58 396.94 L76.09 396.38 L71.75 395.82 L67.58 395.24 L63.57 394.66 L59.75 394.07 L56.09 393.47 L52.62 392.87 L49.33 392.27 L46.22 391.66 L43.3 391.04 L40.57 390.43 L38.04 389.81 L35.69 389.19 L33.55 388.57 L31.6 387.95 L29.86 387.33 L28.32 386.72 L26.97 386.11 L25.84 385.5 L24.91 384.9 L24.18 384.31 L23.66 383.74 L23.35 383.19 L23.25 382.7Z" fill="#fff" stroke="#000" stroke-width="3.0" />
<path d="M583.25 372 L583.15 372.58 L582.84 373.24 L582.32 373.91 L581.59 374.61 L580.66 375.32 L579.53 376.04 L578.18 376.76 L576.64 377.49 L574.9 378.22 L572.95 378.96 L570.81 379.69 L568.46 380.43 L565.93 381.16 L563.2 381.89 L560.28 382.62 L557.17 383.34 L553.88 384.06 L550.41 384.78 L546.75 385.48 L542.93 386.18 L538.92 386.87 L534.75 387.55 L530.41 388.23 L525.92 388.89 L521.26 389.54 L516.45 390.18 L511.49 390.81 L506.38 391.43 L501.14 392.03 L495.75 392.63 L490.24 393.2 L484.6 393.76 L478.84 394.31 L472.97 394.84 L466.98 395.36 L460.89 395.86 L454.7 396.34 L448.42 396.8 L442.05 397.25 L435.6 397.68 L429.07 398.09 L422.48 398.48 L415.83 398.85 L409.13 399.21 L402.37 399.54 L395.58 399.85 L388.76 400.14 L381.92 400.42 L375.06 400.67 L368.2 400.9 L361.34 401.1 L354.5 401.29 L347.7 401.46 L340.93 401.6 L334.24 401.72 L327.62 401.82 L321.12 401.9 L314.79 401.96 L308.71 401.99 L303.25 402 L297.79 401.99 L291.71 401.96 L285.38 401.9 L278.88 401.82 L272.26 401.72 L265.57 401.6 L258.8 401.46 L252 401.29 L245.16 401.1 L238.3 400.9 L231.44 400.67 L224.58 400.42 L217.74 400.14 L210.92 399.85 L204.13 399.54 L197.37 399.21 L190.67 398.85 L184.02 398.48 L177.43 398.09 L170.9 397.68 L164.45 397.25 L158.08 396.8 L151.8 396.34 L145.61 395.86 L139.52 395.36 L133.53 394.84 L127.66 394.31 L121.9 393.76 L116.26 393.2 L110.75 392.63 L105.36 392.03 L100.12 391.43 L95.01 390.81 L90.05 390.18 L85.24 389.54 L80.58 388.89 L76.09 388.23 L71.75 387.55 L67.58 386.87 L63.57 386.18 L59.75 385.48 L56.09 384.78 L52.62 384.06 L49.33 383.34 L46.22 382.62 L43.3 381.89 L40.57 381.16 L38.04 380.43 L35.69 379.69 L33.55 378.96 L31.6 378.22 L29.86 377.49 L28.32 376.76 L26.97 376.04 L25.84 375.32 L24.91 374.61 L24.18 373.91 L23.66 373.24 L23.35 372.58 L23.25 372" fill="none" stroke="#000" stroke-width="2.8" />
<path d="M528 368 L527.92 368.66 L527.69 369.32 L527.31 369.99 L526.77 370.64 L526.08 371.3 L525.24 371.96 L524.24 372.61 L523.09 373.26 L521.8 373.91 L520.35 374.55 L518.76 375.19 L517.01 375.82 L515.12 376.45 L513.09 377.07 L510.91 377.68 L508.59 378.29 L506.13 378.89 L503.53 379.49 L500.79 380.07 L497.92 380.65 L494.92 381.22 L491.78 381.78 L488.52 382.33 L485.12 382.87 L481.61 383.4 L477.97 383.92 L474.21 384.43 L470.34 384.93 L466.35 385.42 L462.25 385.89 L458.04 386.35 L453.72 386.8 L449.3 387.24 L444.78 387.66 L440.17 388.07 L435.46 388.47 L430.66 388.85 L425.77 389.22 L420.8 389.57 L415.75 389.91 L410.62 390.23 L405.42 390.54 L400.15 390.84 L394.81 391.11 L389.41 391.37 L383.95 391.62 L378.44 391.85 L372.87 392.06 L367.26 392.26 L361.6 392.44 L355.91 392.6 L350.18 392.75 L344.41 392.88 L338.62 392.99 L332.8 393.08 L326.97 393.16 L321.11 393.22 L315.25 393.27 L309.38 393.29 L303.5 393.3 L297.62 393.29 L291.75 393.27 L285.89 393.22 L280.03 393.16 L274.2 393.08 L268.38 392.99 L262.59 392.88 L256.82 392.75 L251.09 392.6 L245.4 392.44 L239.74 392.26 L234.13 392.06 L228.56 391.85 L223.05 391.62 L217.59 391.37 L212.19 391.11 L206.85 390.84 L201.58 390.54 L196.38 390.23 L191.25 389.91 L186.2 389.57 L181.23 389.22 L176.34 388.85 L171.54 388.47 L166.83 388.07 L162.22 387.66 L157.7 387.24 L153.28 386.8 L148.96 386.35 L144.75 385.89 L140.65 385.42 L136.66 384.93 L132.79 384.43 L129.03 383.92 L125.39 383.4 L121.88 382.87 L118.48 382.33 L115.22 381.78 L112.08 381.22 L109.08 380.65 L106.21 380.07 L103.47 379.49 L100.87 378.89 L98.41 378.29 L96.09 377.68 L93.91 377.07 L91.88 376.45 L89.99 375.82 L88.24 375.19 L86.65 374.55 L85.2 373.91 L83.91 373.26 L82.76 372.61 L81.76 371.96 L80.92 371.3 L80.23 370.64 L79.69 369.99 L79.31 369.32 L79.08 368.66 L79 368" fill="none" stroke="#000" stroke-width="2.8" />
<path d="M231.6 391 L231.6 382 A25.7 17.8 0 0 1 283 382 L283 383.5" fill="#fff" stroke="#000" stroke-width="2.8"/>
<ellipse cx="257.2" cy="367.7" rx="6" ry="2.6" fill="none" stroke="#000" stroke-width="2.5"/>
<path d="M325 383.5 L325 382 A26 17.8 0 0 1 377 382 L377 391" fill="#fff" stroke="#000" stroke-width="2.8"/>
<ellipse cx="351" cy="367.7" rx="6" ry="2.6" fill="none" stroke="#000" stroke-width="2.5"/>
<line x1="136.7" y1="374.5" x2="233.9" y2="374.5" stroke="#000" stroke-width="2.8"/>
<line x1="280.7" y1="374.5" x2="327.3" y2="374.5" stroke="#000" stroke-width="2.8"/>
<line x1="374.7" y1="374.5" x2="474" y2="374.5" stroke="#000" stroke-width="2.8"/>
<line x1="302.6" y1="125" x2="302.6" y2="133.5" stroke="#000" stroke-width="2.9" stroke-linecap="round"/>
<line x1="302.6" y1="157" x2="302.6" y2="178" stroke="#000" stroke-width="2.9" stroke-linecap="round"/>
<line x1="302.6" y1="201.5" x2="302.6" y2="211" stroke="#000" stroke-width="2.9" stroke-linecap="round"/>
<line x1="303.3" y1="267" x2="303.3" y2="276.2" stroke="#000" stroke-width="2.9" stroke-linecap="round"/>
<line x1="303.3" y1="295" x2="303.3" y2="311.5" stroke="#000" stroke-width="2.9" stroke-linecap="round"/>
<line x1="303.3" y1="331" x2="303.3" y2="341" stroke="#000" stroke-width="2.9" stroke-linecap="round"/>
<line x1="303.7" y1="517" x2="303.7" y2="526.7" stroke="#000" stroke-width="2.9" stroke-linecap="round"/>
<line x1="303.7" y1="546.3" x2="303.7" y2="563.7" stroke="#000" stroke-width="2.9" stroke-linecap="round"/>
<line x1="303.7" y1="583.3" x2="303.7" y2="600.8" stroke="#000" stroke-width="2.9" stroke-linecap="round"/>
<path d="M92.2 373.3 L92.4 372.78 L92.63 372.15 L92.9 371.43 L93.2 370.62 L93.53 369.73 L93.89 368.78 L94.27 367.76 L94.67 366.68 L95.08 365.56 L95.51 364.4 L95.95 363.21 L96.4 362 L96.86 360.74 L97.33 359.4 L97.81 358 L98.31 356.54 L98.83 355.04 L99.36 353.49 L99.92 351.92 L100.49 350.34 L101.08 348.74 L101.7 347.15 L102.34 345.56 L103 344 L103.69 342.44 L104.4 340.87 L105.13 339.28 L105.89 337.69 L106.67 336.09 L107.46 334.47 L108.28 332.86 L109.11 331.24 L109.96 329.63 L110.83 328.01 L111.71 326.4 L112.6 324.8 L113.51 323.2 L114.43 321.6 L115.38 320 L116.33 318.4 L117.31 316.8 L118.3 315.2 L119.31 313.6 L120.33 312 L121.37 310.4 L122.43 308.8 L123.51 307.2 L124.6 305.6 L125.7 304 L126.82 302.4 L127.95 300.8 L129.09 299.2 L130.25 297.6 L131.42 296 L132.62 294.4 L133.84 292.8 L135.09 291.2 L136.36 289.6 L137.67 288 L139 286.4 L140.35 284.8 L141.72 283.2 L143.11 281.6 L144.51 280 L145.94 278.4 L147.4 276.8 L148.89 275.2 L150.42 273.6 L151.99 272 L153.61 270.4 L155.28 268.8 L157 267.2 L158.77 265.59 L160.59 263.97 L162.46 262.35 L164.37 260.72 L166.32 259.09 L168.31 257.46 L170.34 255.84 L172.41 254.24 L174.51 252.65 L176.64 251.07 L178.81 249.52 L181 248 L183.27 246.48 L185.65 244.94 L188.11 243.4 L190.63 241.86 L193.18 240.33 L195.75 238.83 L198.3 237.37 L200.81 235.96 L203.27 234.6 L205.63 233.32 L207.88 232.11 L210 231 L211.98 229.99 L213.85 229.06 L215.63 228.22 L217.33 227.44 L218.97 226.73 L220.56 226.06 L222.12 225.43 L223.67 224.83 L225.21 224.25 L226.77 223.67 L228.36 223.09 L230 222.5 L231.67 221.9 L233.33 221.33 L235 220.77 L236.67 220.22 L238.33 219.7 L240 219.19 L241.67 218.7 L243.33 218.22 L245 217.77 L246.67 217.33 L248.33 216.9 L250 216.5 L251.67 216.12 L253.33 215.75 L255 215.41 L256.67 215.09 L258.33 214.78 L260 214.49 L261.67 214.21 L263.33 213.95 L265 213.7 L266.67 213.46 L268.33 213.22 L270 213 L271.69 212.79 L273.42 212.58 L275.17 212.39 L276.94 212.21 L278.71 212.05 L280.46 211.89 L282.19 211.75 L283.88 211.62 L285.52 211.5 L287.09 211.39 L288.59 211.29 L290 211.2 L291.31 211.13 L292.53 211.07 L293.67 211.03 L294.75 211 L295.77 210.98 L296.76 210.97 L297.72 210.97 L298.67 210.98 L299.62 210.98 L300.59 210.99 L301.57 211 L302.6 211 L303.63 211 L304.61 210.99 L305.58 210.98 L306.53 210.98 L307.48 210.97 L308.44 210.97 L309.43 210.98 L310.45 211 L311.53 211.03 L312.67 211.07 L313.89 211.13 L315.2 211.2 L316.61 211.29 L318.11 211.39 L319.68 211.5 L321.32 211.62 L323.01 211.75 L324.74 211.89 L326.49 212.05 L328.26 212.21 L330.03 212.39 L331.78 212.58 L333.51 212.79 L335.2 213 L336.87 213.22 L338.53 213.46 L340.2 213.7 L341.87 213.95 L343.53 214.21 L345.2 214.49 L346.87 214.78 L348.53 215.09 L350.2 215.41 L351.87 215.75 L353.53 216.12 L355.2 216.5 L356.87 216.9 L358.53 217.33 L360.2 217.77 L361.87 218.22 L363.53 218.7 L365.2 219.19 L366.87 219.7 L368.53 220.22 L370.2 220.77 L371.87 221.33 L373.53 221.9 L375.2 222.5 L376.84 223.09 L378.43 223.67 L379.99 224.25 L381.53 224.83 L383.08 225.43 L384.64 226.06 L386.23 226.73 L387.87 227.44 L389.57 228.22 L391.35 229.06 L393.22 229.99 L395.2 231 L397.32 232.11 L399.57 233.32 L401.93 234.6 L404.39 235.96 L406.9 237.37 L409.45 238.83 L412.02 240.33 L414.57 241.86 L417.09 243.4 L419.55 244.94 L421.93 246.48 L424.2 248 L426.39 249.52 L428.56 251.07 L430.69 252.65 L432.79 254.24 L434.86 255.84 L436.89 257.46 L438.88 259.09 L440.83 260.72 L442.74 262.35 L444.61 263.97 L446.43 265.59 L448.2 267.2 L449.92 268.8 L451.59 270.4 L453.21 272 L454.78 273.6 L456.31 275.2 L457.8 276.8 L459.26 278.4 L460.69 280 L462.09 281.6 L463.48 283.2 L464.85 284.8 L466.2 286.4 L467.53 288 L468.84 289.6 L470.11 291.2 L471.36 292.8 L472.58 294.4 L473.78 296 L474.95 297.6 L476.11 299.2 L477.25 300.8 L478.38 302.4 L479.5 304 L480.6 305.6 L481.69 307.2 L482.77 308.8 L483.83 310.4 L484.87 312 L485.89 313.6 L486.9 315.2 L487.89 316.8 L488.87 318.4 L489.83 320 L490.77 321.6 L491.69 323.2 L492.6 324.8 L493.49 326.4 L494.37 328.01 L495.24 329.63 L496.09 331.24 L496.92 332.86 L497.74 334.47 L498.53 336.09 L499.31 337.69 L500.07 339.28 L500.8 340.87 L501.51 342.44 L502.2 344 L502.86 345.56 L503.5 347.15 L504.12 348.74 L504.71 350.34 L505.28 351.92 L505.84 353.49 L506.37 355.04 L506.89 356.54 L507.39 358 L507.87 359.4 L508.34 360.74 L508.8 362 L509.25 363.21 L509.69 364.4 L510.12 365.56 L510.53 366.68 L510.93 367.76 L511.31 368.77 L511.67 369.73 L512 370.62 L512.3 371.43 L512.57 372.15 L512.8 372.78 L513 373.3 L512.58 373.59 L512.07 373.97 L511.48 374.42 L510.81 374.92 L510.09 375.47 L509.31 376.04 L508.49 376.61 L507.63 377.18 L506.74 377.72 L505.84 378.21 L504.92 378.64 L504 379 L503.05 379.3 L502.04 379.57 L500.98 379.81 L499.89 380.02 L498.77 380.21 L497.62 380.37 L496.48 380.5 L495.33 380.61 L494.2 380.69 L493.1 380.75 L492.03 380.79 L491 380.8 L490 380.79 L489 380.75 L488 380.69 L487.01 380.61 L486.04 380.5 L485.09 380.37 L484.16 380.21 L483.25 380.02 L482.38 379.81 L481.54 379.57 L480.75 379.3 L480 379 L479.29 378.64 L478.59 378.21 L477.93 377.72 L477.29 377.18 L476.68 376.61 L476.11 376.04 L475.58 375.47 L475.09 374.92 L474.64 374.42 L474.24 373.97 L473.89 373.59 L473.6 373.3 L473.52 372.78 L473.44 372.15 L473.35 371.43 L473.24 370.62 L473.13 369.73 L473 368.78 L472.85 367.76 L472.69 366.68 L472.5 365.56 L472.29 364.4 L472.06 363.21 L471.8 362 L471.52 360.74 L471.22 359.4 L470.9 358 L470.56 356.54 L470.19 355.04 L469.81 353.49 L469.41 351.92 L468.98 350.34 L468.52 348.74 L468.04 347.15 L467.54 345.56 L467 344 L466.44 342.44 L465.85 340.87 L465.24 339.28 L464.6 337.69 L463.94 336.09 L463.25 334.47 L462.54 332.86 L461.8 331.24 L461.04 329.63 L460.25 328.01 L459.44 326.4 L458.6 324.8 L457.75 323.2 L456.88 321.6 L455.99 320 L455.09 318.4 L454.16 316.8 L453.2 315.2 L452.21 313.6 L451.18 312 L450.11 310.4 L448.99 308.8 L447.82 307.2 L446.6 305.6 L445.31 303.99 L443.96 302.35 L442.55 300.7 L441.08 299.04 L439.58 297.38 L438.04 295.73 L436.47 294.1 L434.9 292.48 L433.31 290.9 L431.73 289.35 L430.15 287.85 L428.6 286.4 L427.05 284.99 L425.47 283.59 L423.87 282.21 L422.27 280.86 L420.65 279.54 L419.04 278.25 L417.43 277 L415.82 275.8 L414.23 274.64 L412.66 273.53 L411.12 272.49 L409.6 271.5 L408.1 270.58 L406.62 269.74 L405.14 268.96 L403.67 268.24 L402.22 267.56 L400.79 266.92 L399.37 266.32 L397.97 265.74 L396.59 265.18 L395.24 264.62 L393.91 264.06 L392.6 263.5 L391.3 262.93 L389.98 262.36 L388.67 261.79 L387.36 261.24 L386.07 260.7 L384.82 260.18 L383.61 259.69 L382.45 259.23 L381.36 258.81 L380.35 258.42 L379.42 258.09 L378.6 257.8 L377.88 257.57 L377.25 257.41 L376.7 257.3 L376.23 257.23 L375.82 257.2 L375.48 257.19 L375.17 257.21 L374.91 257.24 L374.69 257.27 L374.48 257.29 L374.29 257.31 L374.1 257.3 L372.3 257.34 L372.07 257.38 L371.82 257.43 L371.54 257.48 L371.22 257.54 L370.88 257.61 L370.49 257.68 L370.07 257.77 L369.62 257.88 L369.12 258 L368.58 258.14 L368 258.3 L367.39 258.48 L366.77 258.69 L366.12 258.92 L365.44 259.16 L364.73 259.42 L363.97 259.69 L363.15 259.97 L362.28 260.25 L361.33 260.54 L360.31 260.83 L359.2 261.12 L358 261.4 L356.68 261.69 L355.25 261.99 L353.7 262.31 L352.07 262.63 L350.38 262.96 L348.62 263.29 L346.84 263.61 L345.04 263.92 L343.23 264.22 L341.45 264.5 L339.7 264.76 L338 265 L336.31 265.21 L334.6 265.41 L332.86 265.59 L331.11 265.76 L329.36 265.91 L327.62 266.06 L325.91 266.19 L324.22 266.31 L322.58 266.42 L320.99 266.52 L319.46 266.61 L318 266.7 L316.62 266.78 L315.32 266.84 L314.08 266.89 L312.89 266.93 L311.74 266.95 L310.62 266.97 L309.53 266.99 L308.44 267 L307.36 267 L306.26 267 L305.15 267 L304 267 L302.85 267 L301.74 267 L300.64 267 L299.56 267 L298.47 266.99 L297.38 266.98 L296.26 266.95 L295.11 266.93 L293.92 266.89 L292.68 266.84 L291.38 266.78 L290 266.7 L288.54 266.61 L287.01 266.52 L285.42 266.42 L283.78 266.31 L282.09 266.19 L280.38 266.06 L278.64 265.91 L276.89 265.76 L275.14 265.59 L273.4 265.41 L271.69 265.21 L270 265 L268.3 264.76 L266.55 264.5 L264.77 264.22 L262.96 263.92 L261.16 263.61 L259.38 263.29 L257.62 262.96 L255.93 262.63 L254.3 262.31 L252.75 261.99 L251.32 261.69 L250 261.4 L248.8 261.12 L247.69 260.83 L246.67 260.54 L245.72 260.25 L244.85 259.97 L244.03 259.69 L243.27 259.42 L242.56 259.16 L241.88 258.92 L241.23 258.69 L240.61 258.48 L240 258.3 L239.42 258.14 L238.88 258 L238.38 257.88 L237.93 257.77 L237.51 257.68 L237.12 257.61 L236.78 257.54 L236.46 257.48 L236.18 257.43 L235.93 257.38 L235.7 257.34 L235.5 257.3 L235.31 257.31 L235.12 257.29 L234.91 257.27 L234.69 257.24 L234.43 257.21 L234.12 257.19 L233.78 257.2 L233.37 257.23 L232.9 257.3 L232.35 257.41 L231.72 257.57 L231 257.8 L230.18 258.09 L229.25 258.42 L228.24 258.81 L227.15 259.23 L225.99 259.69 L224.78 260.18 L223.53 260.7 L222.24 261.24 L220.93 261.79 L219.62 262.36 L218.3 262.93 L217 263.5 L215.69 264.06 L214.36 264.62 L213.01 265.18 L211.63 265.74 L210.23 266.32 L208.81 266.92 L207.38 267.56 L205.93 268.24 L204.46 268.96 L202.98 269.74 L201.5 270.58 L200 271.5 L198.48 272.49 L196.94 273.53 L195.37 274.64 L193.78 275.8 L192.17 277 L190.56 278.25 L188.95 279.54 L187.33 280.86 L185.73 282.21 L184.13 283.59 L182.55 284.99 L181 286.4 L179.45 287.85 L177.87 289.35 L176.29 290.9 L174.7 292.48 L173.13 294.1 L171.56 295.73 L170.02 297.38 L168.52 299.04 L167.05 300.7 L165.64 302.35 L164.29 303.99 L163 305.6 L161.78 307.2 L160.61 308.8 L159.49 310.4 L158.42 312 L157.39 313.6 L156.4 315.2 L155.44 316.8 L154.51 318.4 L153.61 320 L152.72 321.6 L151.85 323.2 L151 324.8 L150.16 326.4 L149.35 328.01 L148.56 329.63 L147.8 331.24 L147.06 332.86 L146.35 334.47 L145.66 336.09 L145 337.69 L144.36 339.28 L143.75 340.87 L143.16 342.44 L142.6 344 L142.06 345.56 L141.56 347.15 L141.08 348.74 L140.62 350.34 L140.19 351.92 L139.79 353.49 L139.41 355.04 L139.04 356.54 L138.7 358 L138.38 359.4 L138.08 360.74 L137.8 362 L137.54 363.21 L137.31 364.4 L137.1 365.56 L136.91 366.68 L136.75 367.76 L136.6 368.78 L136.47 369.73 L136.36 370.62 L136.25 371.43 L136.16 372.15 L136.08 372.78 L136 373.3 L135.63 373.59 L135.19 373.97 L134.68 374.42 L134.11 374.92 L133.49 375.47 L132.81 376.04 L132.09 376.61 L131.33 377.18 L130.54 377.72 L129.72 378.21 L128.87 378.64 L128 379 L127.09 379.3 L126.12 379.57 L125.1 379.81 L124.04 380.02 L122.94 380.21 L121.81 380.37 L120.67 380.5 L119.52 380.61 L118.37 380.69 L117.22 380.75 L116.1 380.79 L115 380.8 L113.91 380.79 L112.8 380.75 L111.68 380.69 L110.55 380.61 L109.42 380.5 L108.3 380.37 L107.19 380.21 L106.1 380.02 L105.02 379.81 L103.98 379.57 L102.97 379.3 L102 379 L101.04 378.64 L100.07 378.21 L99.1 377.72 L98.13 377.18 L97.19 376.61 L96.29 376.04 L95.43 375.47 L94.62 374.92 L93.89 374.42 L93.23 373.97 L92.66 373.59 L92.2 373.3Z" fill="#fff" stroke="#000" stroke-width="2.9" stroke-linejoin="round"/>
<path d="M255.5 242.17 L256 242.51 L256.5 242.84 L257 243.15 L257.5 243.46 L258 243.76 L258.5 244.04 L259 244.32 L259.5 244.59 L260 244.85 L260.5 245.1 L261 245.34 L261.5 245.58 L262 245.8 L262.5 246.02 L263 246.23 L263.5 246.43 L264 246.63 L264.5 246.81 L265 246.99 L265.5 247.17 L266 247.33 L266.5 247.5 L267 247.65 L267.5 247.8 L268 247.94 L268.5 248.07 L269 248.2 L269.5 248.33 L270 248.45 L270.5 248.56 L271 248.67 L271.5 248.77 L272 248.87 L272.5 248.97 L273 249.06 L273.5 249.14 L274 249.23 L274.5 249.3 L275 249.38 L275.5 249.45 L276 249.51 L276.5 249.58 L277 249.64 L277.5 249.69 L278 249.74 L278.5 249.79 L279 249.84 L279.5 249.89 L280 249.93 L280.5 249.97 L281 250 L281.5 250.04 L282 250.07 L282.5 250.1 L283 250.13 L283.5 250.15 L284 250.18 L284.5 250.2 L285 250.22 L285.5 250.24 L286 250.25 L286.5 250.27 L287 250.29 L287.5 250.3 L288 250.31 L288.5 250.32 L289 250.33 L289.5 250.34 L290 250.35 L290.5 250.36 L291 250.36 L291.5 250.37 L292 250.37 L292.5 250.38 L293 250.38 L293.5 250.38 L294 250.39 L294.5 250.39 L295 250.39 L295.5 250.39 L296 250.4 L296.5 250.4 L297 250.4 L297.5 250.4 L298 250.4 L298.5 250.4 L299 250.4 L299.5 250.4 L300 250.4 L300.5 250.4 L301 250.4 L301.5 250.4 L302 250.4 L302.5 250.4 L303 250.4 L303.5 250.4 L304 250.4 L304.5 250.4 L305 250.4 L305.5 250.4 L306 250.4 L306.5 250.4 L307 250.4 L307.5 250.4 L308 250.4 L308.5 250.4 L309 250.4 L309.5 250.4 L310 250.4 L310.5 250.4 L311 250.4 L311.5 250.39 L312 250.39 L312.5 250.39 L313 250.39 L313.5 250.38 L314 250.38 L314.5 250.38 L315 250.37 L315.5 250.37 L316 250.36 L316.5 250.36 L317 250.35 L317.5 250.34 L318 250.33 L318.5 250.32 L319 250.31 L319.5 250.3 L320 250.29 L320.5 250.27 L321 250.25 L321.5 250.24 L322 250.22 L322.5 250.2 L323 250.18 L323.5 250.15 L324 250.13 L324.5 250.1 L325 250.07 L325.5 250.04 L326 250 L326.5 249.97 L327 249.93 L327.5 249.89 L328 249.84 L328.5 249.79 L329 249.74 L329.5 249.69 L330 249.64 L330.5 249.58 L331 249.51 L331.5 249.45 L332 249.38 L332.5 249.3 L333 249.23 L333.5 249.14 L334 249.06 L334.5 248.97 L335 248.87 L335.5 248.77 L336 248.67 L336.5 248.56 L337 248.45 L337.5 248.33 L338 248.2 L338.5 248.07 L339 247.94 L339.5 247.8 L340 247.65 L340.5 247.5 L341 247.33 L341.5 247.17 L342 246.99 L342.5 246.81 L343 246.63 L343.5 246.43 L344 246.23 L344.5 246.02 L345 245.8 L345.5 245.58 L346 245.34 L346.5 245.1 L347 244.85 L347.5 244.59 L348 244.32 L348.5 244.04 L349 243.76 L349.5 243.46 L350 243.15 L350.5 242.84 L351 242.51 L351.5 242.17" fill="none" stroke="#000" stroke-width="2.8" stroke-linecap="round"/>
<path d="M573.5 700 L573.5 1415 L573.4 1416.77 L573.11 1418.67 L572.62 1420.63 L571.94 1422.61 L571.07 1424.62 L570.01 1426.63 L568.75 1428.66 L567.3 1430.7 L565.66 1432.73 L563.83 1434.77 L561.82 1436.8 L559.62 1438.82 L557.24 1440.84 L554.67 1442.84 L551.93 1444.83 L549.01 1446.81 L545.91 1448.77 L542.64 1450.71 L539.2 1452.63 L535.6 1454.53 L531.83 1456.41 L527.9 1458.25 L523.81 1460.08 L519.56 1461.87 L515.17 1463.63 L510.62 1465.36 L505.93 1467.06 L501.11 1468.72 L496.14 1470.35 L491.04 1471.93 L485.82 1473.48 L480.47 1474.99 L475 1476.46 L469.42 1477.89 L463.73 1479.27 L457.93 1480.6 L452.03 1481.89 L446.04 1483.14 L439.96 1484.33 L433.79 1485.48 L427.55 1486.57 L421.23 1487.62 L414.84 1488.61 L408.39 1489.56 L401.89 1490.44 L395.34 1491.28 L388.74 1492.06 L382.11 1492.78 L375.45 1493.45 L368.77 1494.06 L362.08 1494.62 L355.38 1495.11 L348.69 1495.56 L342.02 1495.94 L335.38 1496.26 L328.79 1496.53 L322.26 1496.73 L315.84 1496.88 L309.58 1496.97 L303.75 1497 L297.92 1496.97 L291.66 1496.88 L285.24 1496.73 L278.71 1496.53 L272.12 1496.26 L265.48 1495.94 L258.81 1495.56 L252.12 1495.11 L245.42 1494.62 L238.73 1494.06 L232.05 1493.45 L225.39 1492.78 L218.76 1492.06 L212.16 1491.28 L205.61 1490.44 L199.11 1489.56 L192.66 1488.61 L186.27 1487.62 L179.95 1486.57 L173.71 1485.48 L167.54 1484.33 L161.46 1483.14 L155.47 1481.89 L149.57 1480.6 L143.77 1479.27 L138.08 1477.89 L132.5 1476.46 L127.03 1474.99 L121.68 1473.48 L116.46 1471.93 L111.36 1470.35 L106.39 1468.72 L101.57 1467.06 L96.88 1465.36 L92.33 1463.63 L87.94 1461.87 L83.69 1460.08 L79.6 1458.25 L75.67 1456.41 L71.9 1454.53 L68.3 1452.63 L64.86 1450.71 L61.59 1448.77 L58.49 1446.81 L55.57 1444.83 L52.83 1442.84 L50.26 1440.84 L47.88 1438.82 L45.68 1436.8 L43.67 1434.77 L41.84 1432.73 L40.2 1430.7 L38.75 1428.66 L37.49 1426.63 L36.43 1424.62 L35.56 1422.61 L34.88 1420.63 L34.39 1418.67 L34.1 1416.77 L34 1415 L34 700" fill="#fff" stroke="#000" stroke-width="2.9" />
<path d="M53.3 901 L53.3 1398 L53.35 1399.2 L53.5 1400.5 L53.76 1401.82 L54.11 1403.17 L54.57 1404.54 L55.13 1405.92 L55.79 1407.3 L56.55 1408.7 L57.41 1410.1 L58.37 1411.5 L59.43 1412.9 L60.59 1414.3 L61.84 1415.71 L63.2 1417.11 L64.65 1418.51 L66.2 1419.9 L67.84 1421.29 L69.58 1422.68 L71.42 1424.06 L73.35 1425.43 L75.37 1426.8 L77.48 1428.15 L79.68 1429.5 L81.98 1430.84 L84.36 1432.16 L86.83 1433.48 L89.39 1434.78 L92.03 1436.07 L94.76 1437.35 L97.57 1438.61 L100.46 1439.86 L103.43 1441.1 L106.48 1442.31 L109.61 1443.52 L112.81 1444.7 L116.09 1445.87 L119.45 1447.02 L122.87 1448.15 L126.37 1449.26 L129.93 1450.35 L133.56 1451.42 L137.26 1452.48 L141.02 1453.51 L144.84 1454.51 L148.72 1455.5 L152.66 1456.46 L156.66 1457.41 L160.71 1458.32 L164.81 1459.22 L168.96 1460.09 L173.16 1460.93 L177.41 1461.75 L181.7 1462.55 L186.03 1463.32 L190.41 1464.06 L194.82 1464.78 L199.26 1465.46 L203.74 1466.13 L208.25 1466.76 L212.79 1467.37 L217.35 1467.95 L221.94 1468.5 L226.55 1469.03 L231.17 1469.52 L235.81 1469.99 L240.46 1470.42 L245.12 1470.83 L249.79 1471.21 L254.46 1471.56 L259.12 1471.88 L263.78 1472.16 L268.43 1472.42 L273.06 1472.65 L277.67 1472.85 L282.25 1473.02 L286.8 1473.16 L291.29 1473.26 L295.7 1473.34 L300 1473.38 L304 1473.4" fill="none" stroke="#000" stroke-width="2.9" stroke-linecap="round" stroke-dasharray="21 20.7" stroke-dashoffset="10.5"/>
<path d="M554.7 901 L554.7 1398 L554.65 1399.2 L554.5 1400.5 L554.24 1401.82 L553.89 1403.17 L553.43 1404.54 L552.87 1405.92 L552.21 1407.3 L551.45 1408.7 L550.59 1410.1 L549.63 1411.5 L548.57 1412.9 L547.41 1414.3 L546.16 1415.71 L544.8 1417.11 L543.35 1418.51 L541.8 1419.9 L540.16 1421.29 L538.42 1422.68 L536.58 1424.06 L534.65 1425.43 L532.63 1426.8 L530.52 1428.15 L528.32 1429.5 L526.02 1430.84 L523.64 1432.16 L521.17 1433.48 L518.61 1434.78 L515.97 1436.07 L513.24 1437.35 L510.43 1438.61 L507.54 1439.86 L504.57 1441.1 L501.52 1442.31 L498.39 1443.52 L495.19 1444.7 L491.91 1445.87 L488.55 1447.02 L485.13 1448.15 L481.63 1449.26 L478.07 1450.35 L474.44 1451.42 L470.74 1452.48 L466.98 1453.51 L463.16 1454.51 L459.28 1455.5 L455.34 1456.46 L451.34 1457.41 L447.29 1458.32 L443.19 1459.22 L439.04 1460.09 L434.84 1460.93 L430.59 1461.75 L426.3 1462.55 L421.97 1463.32 L417.59 1464.06 L413.18 1464.78 L408.74 1465.46 L404.26 1466.13 L399.75 1466.76 L395.21 1467.37 L390.65 1467.95 L386.06 1468.5 L381.45 1469.03 L376.83 1469.52 L372.19 1469.99 L367.54 1470.42 L362.88 1470.83 L358.21 1471.21 L353.54 1471.56 L348.88 1471.88 L344.22 1472.16 L339.57 1472.42 L334.94 1472.65 L330.33 1472.85 L325.75 1473.02 L321.2 1473.16 L316.71 1473.26 L312.3 1473.34 L308 1473.38 L304 1473.4" fill="none" stroke="#000" stroke-width="2.9" stroke-linecap="round" stroke-dasharray="21 20.7" stroke-dashoffset="10.5"/>
<path d="M304 846.3 L300.71 846.3 L297.43 846.32 L294.15 846.34 L290.86 846.38 L287.58 846.42 L284.31 846.47 L281.03 846.53 L277.76 846.6 L274.5 846.68 L271.24 846.77 L267.98 846.87 L264.73 846.98 L261.49 847.1 L258.26 847.23 L255.03 847.36 L251.81 847.51 L248.6 847.66 L245.41 847.83 L242.22 848 L239.04 848.18 L235.87 848.38 L232.71 848.58 L229.57 848.79 L226.44 849.01 L223.32 849.23 L220.21 849.47 L217.12 849.72 L214.05 849.97 L210.99 850.24 L207.95 850.51 L204.92 850.79 L201.91 851.08 L198.92 851.38 L195.94 851.69 L192.99 852 L190.05 852.33 L187.13 852.66 L184.23 853 L181.36 853.35 L178.5 853.71 L175.67 854.07 L172.85 854.45 L170.06 854.83 L167.3 855.22 L164.55 855.62 L161.83 856.03 L159.14 856.44 L156.47 856.86 L153.82 857.29 L151.2 857.73 L148.61 858.17 L146.04 858.62 L143.5 859.08 L140.99 859.55 L138.5 860.02 L136.05 860.5 L133.62 860.99 L131.22 861.49 L128.85 861.99 L126.52 862.5 L124.21 863.01 L121.93 863.53 L119.69 864.06 L117.47 864.6 L115.29 865.14 L113.14 865.69 L111.02 866.24 L108.94 866.8 L106.89 867.36 L104.87 867.94 L102.89 868.51 L100.94 869.1 L99.02 869.68 L97.14 870.28 L95.3 870.88 L93.49 871.48 L91.72 872.09 L89.99 872.71 L88.29 873.33 L86.63 873.95 L85 874.58 L83.42 875.21 L81.87 875.85 L80.36 876.49 L78.88 877.14 L77.45 877.79 L76.06 878.45 L74.7 879.11 L73.38 879.77 L72.11 880.44 L70.87 881.11 L69.67 881.78 L68.51 882.46 L67.4 883.14 L66.32 883.82 L65.28 884.51 L64.29 885.2 L63.34 885.89 L62.42 886.59 L61.55 887.29 L60.72 887.99 L59.94 888.69 L59.19 889.4 L58.48 890.1 L57.82 890.81 L57.2 891.52 L56.63 892.23 L56.09 892.95 L55.6 893.66 L55.15 894.38 L54.74 895.1 L54.38 895.82 L54.05 896.54 L53.77 897.26 L53.54 897.98 L53.34 898.71 L53.19 899.43 L53.09 900.15 L53.02 900.88 L53 901.6 L53.02 902.32 L53.09 903.05 L53.19 903.77 L53.34 904.49 L53.54 905.22 L53.77 905.94 L54.05 906.66 L54.38 907.38 L54.74 908.1 L55.15 908.82 L55.6 909.54 L56.09 910.25 L56.63 910.97 L57.2 911.68 L57.82 912.39 L58.48 913.1 L59.19 913.8 L59.94 914.51 L60.72 915.21 L61.55 915.91 L62.42 916.61 L63.34 917.31 L64.29 918 L65.28 918.69 L66.32 919.38 L67.4 920.06 L68.51 920.74 L69.67 921.42 L70.87 922.09 L72.11 922.76 L73.38 923.43 L74.7 924.09 L76.06 924.75 L77.45 925.41 L78.88 926.06 L80.36 926.71 L81.87 927.35 L83.42 927.99 L85 928.62 L86.63 929.25 L88.29 929.87 L89.99 930.49 L91.72 931.11 L93.49 931.72 L95.3 932.32 L97.14 932.92 L99.02 933.52 L100.94 934.1 L102.89 934.69 L104.87 935.26 L106.89 935.84 L108.94 936.4 L111.02 936.96 L113.14 937.51 L115.29 938.06 L117.47 938.6 L119.69 939.14 L121.93 939.67 L124.21 940.19 L126.52 940.7 L128.85 941.21 L131.22 941.71 L133.62 942.21 L136.05 942.7 L138.5 943.18 L140.99 943.65 L143.5 944.12 L146.04 944.58 L148.61 945.03 L151.2 945.47 L153.82 945.91 L156.47 946.34 L159.14 946.76 L161.83 947.17 L164.55 947.58 L167.3 947.98 L170.06 948.37 L172.85 948.75 L175.67 949.13 L178.5 949.49 L181.36 949.85 L184.23 950.2 L187.13 950.54 L190.05 950.87 L192.99 951.2 L195.94 951.51 L198.92 951.82 L201.91 952.12 L204.92 952.41 L207.95 952.69 L210.99 952.96 L214.05 953.23 L217.12 953.48 L220.21 953.73 L223.32 953.97 L226.44 954.19 L229.57 954.41 L232.71 954.62 L235.87 954.82 L239.04 955.02 L242.22 955.2 L245.41 955.37 L248.6 955.54 L251.81 955.69 L255.03 955.84 L258.26 955.97 L261.49 956.1 L264.73 956.22 L267.98 956.33 L271.24 956.43 L274.5 956.52 L277.76 956.6 L281.03 956.67 L284.31 956.73 L287.58 956.78 L290.86 956.82 L294.15 956.86 L297.43 956.88 L300.71 956.9 L304 956.9" fill="none" stroke="#000" stroke-width="2.9" stroke-linecap="round" stroke-dasharray="20 21.9" stroke-dashoffset="31.9"/>
<path d="M304 846.3 L307.29 846.3 L310.57 846.32 L313.85 846.34 L317.14 846.38 L320.42 846.42 L323.69 846.47 L326.97 846.53 L330.24 846.6 L333.5 846.68 L336.76 846.77 L340.02 846.87 L343.27 846.98 L346.51 847.1 L349.74 847.23 L352.97 847.36 L356.19 847.51 L359.4 847.66 L362.59 847.83 L365.78 848 L368.96 848.18 L372.13 848.38 L375.29 848.58 L378.43 848.79 L381.56 849.01 L384.68 849.23 L387.79 849.47 L390.88 849.72 L393.95 849.97 L397.01 850.24 L400.05 850.51 L403.08 850.79 L406.09 851.08 L409.08 851.38 L412.06 851.69 L415.01 852 L417.95 852.33 L420.87 852.66 L423.77 853 L426.64 853.35 L429.5 853.71 L432.33 854.07 L435.15 854.45 L437.94 854.83 L440.7 855.22 L443.45 855.62 L446.17 856.03 L448.86 856.44 L451.53 856.86 L454.18 857.29 L456.8 857.73 L459.39 858.17 L461.96 858.62 L464.5 859.08 L467.01 859.55 L469.5 860.02 L471.95 860.5 L474.38 860.99 L476.78 861.49 L479.15 861.99 L481.48 862.5 L483.79 863.01 L486.07 863.53 L488.31 864.06 L490.53 864.6 L492.71 865.14 L494.86 865.69 L496.98 866.24 L499.06 866.8 L501.11 867.36 L503.13 867.94 L505.11 868.51 L507.06 869.1 L508.98 869.68 L510.86 870.28 L512.7 870.88 L514.51 871.48 L516.28 872.09 L518.01 872.71 L519.71 873.33 L521.37 873.95 L523 874.58 L524.58 875.21 L526.13 875.85 L527.64 876.49 L529.12 877.14 L530.55 877.79 L531.94 878.45 L533.3 879.11 L534.62 879.77 L535.89 880.44 L537.13 881.11 L538.33 881.78 L539.49 882.46 L540.6 883.14 L541.68 883.82 L542.72 884.51 L543.71 885.2 L544.66 885.89 L545.58 886.59 L546.45 887.29 L547.28 887.99 L548.06 888.69 L548.81 889.4 L549.52 890.1 L550.18 890.81 L550.8 891.52 L551.37 892.23 L551.91 892.95 L552.4 893.66 L552.85 894.38 L553.26 895.1 L553.62 895.82 L553.95 896.54 L554.23 897.26 L554.46 897.98 L554.66 898.71 L554.81 899.43 L554.91 900.15 L554.98 900.88 L555 901.6 L554.98 902.32 L554.91 903.05 L554.81 903.77 L554.66 904.49 L554.46 905.22 L554.23 905.94 L553.95 906.66 L553.62 907.38 L553.26 908.1 L552.85 908.82 L552.4 909.54 L551.91 910.25 L551.37 910.97 L550.8 911.68 L550.18 912.39 L549.52 913.1 L548.81 913.8 L548.06 914.51 L547.28 915.21 L546.45 915.91 L545.58 916.61 L544.66 917.31 L543.71 918 L542.72 918.69 L541.68 919.38 L540.6 920.06 L539.49 920.74 L538.33 921.42 L537.13 922.09 L535.89 922.76 L534.62 923.43 L533.3 924.09 L531.94 924.75 L530.55 925.41 L529.12 926.06 L527.64 926.71 L526.13 927.35 L524.58 927.99 L523 928.62 L521.37 929.25 L519.71 929.87 L518.01 930.49 L516.28 931.11 L514.51 931.72 L512.7 932.32 L510.86 932.92 L508.98 933.52 L507.06 934.1 L505.11 934.69 L503.13 935.26 L501.11 935.84 L499.06 936.4 L496.98 936.96 L494.86 937.51 L492.71 938.06 L490.53 938.6 L488.31 939.14 L486.07 939.67 L483.79 940.19 L481.48 940.7 L479.15 941.21 L476.78 941.71 L474.38 942.21 L471.95 942.7 L469.5 943.18 L467.01 943.65 L464.5 944.12 L461.96 944.58 L459.39 945.03 L456.8 945.47 L454.18 945.91 L451.53 946.34 L448.86 946.76 L446.17 947.17 L443.45 947.58 L440.7 947.98 L437.94 948.37 L435.15 948.75 L432.33 949.13 L429.5 949.49 L426.64 949.85 L423.77 950.2 L420.87 950.54 L417.95 950.87 L415.01 951.2 L412.06 951.51 L409.08 951.82 L406.09 952.12 L403.08 952.41 L400.05 952.69 L397.01 952.96 L393.95 953.23 L390.88 953.48 L387.79 953.73 L384.68 953.97 L381.56 954.19 L378.43 954.41 L375.29 954.62 L372.13 954.82 L368.96 955.02 L365.78 955.2 L362.59 955.37 L359.4 955.54 L356.19 955.69 L352.97 955.84 L349.74 955.97 L346.51 956.1 L343.27 956.22 L340.02 956.33 L336.76 956.43 L333.5 956.52 L330.24 956.6 L326.97 956.67 L323.69 956.73 L320.42 956.78 L317.14 956.82 L313.85 956.86 L310.57 956.88 L307.29 956.9 L304 956.9" fill="none" stroke="#000" stroke-width="2.9" stroke-linecap="round" stroke-dasharray="20 21.9" stroke-dashoffset="31.9"/>
<path d="M581.5 686 L581.4 687.48 L581.12 688.96 L580.64 690.43 L579.98 691.91 L579.12 693.37 L578.08 694.84 L576.84 696.3 L575.43 697.75 L573.82 699.19 L572.03 700.62 L570.05 702.05 L567.89 703.46 L565.55 704.86 L563.04 706.25 L560.34 707.62 L557.47 708.98 L554.42 710.32 L551.2 711.65 L547.81 712.96 L544.26 714.25 L540.53 715.52 L536.65 716.77 L532.61 718 L528.41 719.21 L524.05 720.4 L519.55 721.56 L514.89 722.69 L510.09 723.81 L505.15 724.89 L500.08 725.95 L494.86 726.98 L489.52 727.99 L484.05 728.96 L478.45 729.91 L472.74 730.82 L466.9 731.71 L460.96 732.56 L454.91 733.38 L448.75 734.17 L442.5 734.93 L436.15 735.65 L429.71 736.34 L423.18 737 L416.57 737.62 L409.89 738.2 L403.13 738.75 L396.3 739.26 L389.41 739.73 L382.46 740.17 L375.45 740.57 L368.4 740.94 L361.3 741.27 L354.16 741.55 L346.99 741.8 L339.79 742.02 L332.56 742.19 L325.31 742.33 L318.05 742.42 L310.78 742.48 L303.5 742.5 L296.22 742.48 L288.95 742.42 L281.69 742.33 L274.44 742.19 L267.21 742.02 L260.01 741.8 L252.84 741.55 L245.7 741.27 L238.6 740.94 L231.55 740.57 L224.54 740.17 L217.59 739.73 L210.7 739.26 L203.87 738.75 L197.11 738.2 L190.43 737.62 L183.82 737 L177.29 736.34 L170.85 735.65 L164.5 734.93 L158.25 734.17 L152.09 733.38 L146.04 732.56 L140.1 731.71 L134.26 730.82 L128.55 729.91 L122.95 728.96 L117.48 727.99 L112.14 726.98 L106.92 725.95 L101.85 724.89 L96.91 723.81 L92.11 722.69 L87.45 721.56 L82.95 720.4 L78.59 719.21 L74.39 718 L70.35 716.77 L66.47 715.52 L62.74 714.25 L59.19 712.96 L55.8 711.65 L52.58 710.32 L49.53 708.98 L46.66 707.62 L43.96 706.25 L41.45 704.86 L39.11 703.46 L36.95 702.05 L34.97 700.62 L33.18 699.19 L31.57 697.75 L30.16 696.3 L28.92 694.84 L27.88 693.37 L27.02 691.91 L26.36 690.43 L25.88 688.96 L25.6 687.48 L25.5 686 L25.6 684.52 L25.88 683.04 L26.36 681.57 L27.02 680.09 L27.88 678.63 L28.92 677.16 L30.16 675.7 L31.57 674.25 L33.18 672.81 L34.97 671.38 L36.95 669.95 L39.11 668.54 L41.45 667.14 L43.96 665.75 L46.66 664.38 L49.53 663.02 L52.58 661.68 L55.8 660.35 L59.19 659.04 L62.74 657.75 L66.47 656.48 L70.35 655.23 L74.39 654 L78.59 652.79 L82.95 651.6 L87.45 650.44 L92.11 649.31 L96.91 648.19 L101.85 647.11 L106.92 646.05 L112.14 645.02 L117.48 644.01 L122.95 643.04 L128.55 642.09 L134.26 641.18 L140.1 640.29 L146.04 639.44 L152.09 638.62 L158.25 637.83 L164.5 637.07 L170.85 636.35 L177.29 635.66 L183.82 635 L190.43 634.38 L197.11 633.8 L203.87 633.25 L210.7 632.74 L217.59 632.27 L224.54 631.83 L231.55 631.43 L238.6 631.06 L245.7 630.73 L252.84 630.45 L260.01 630.2 L267.21 629.98 L274.44 629.81 L281.69 629.67 L288.95 629.58 L296.22 629.52 L303.5 629.5 L310.78 629.52 L318.05 629.58 L325.31 629.67 L332.56 629.81 L339.79 629.98 L346.99 630.2 L354.16 630.45 L361.3 630.73 L368.4 631.06 L375.45 631.43 L382.46 631.83 L389.41 632.27 L396.3 632.74 L403.13 633.25 L409.89 633.8 L416.57 634.38 L423.18 635 L429.71 635.66 L436.15 636.35 L442.5 637.07 L448.75 637.83 L454.91 638.62 L460.96 639.44 L466.9 640.29 L472.74 641.18 L478.45 642.09 L484.05 643.04 L489.52 644.01 L494.86 645.02 L500.08 646.05 L505.15 647.11 L510.09 648.19 L514.89 649.31 L519.55 650.44 L524.05 651.6 L528.41 652.79 L532.61 654 L536.65 655.23 L540.53 656.48 L544.26 657.75 L547.81 659.04 L551.2 660.35 L554.42 661.68 L557.47 663.02 L560.34 664.38 L563.04 665.75 L565.55 667.14 L567.89 668.54 L570.05 669.95 L572.03 671.38 L573.82 672.81 L575.43 674.25 L576.84 675.7 L578.08 677.16 L579.12 678.63 L579.98 680.09 L580.64 681.57 L581.12 683.04 L581.4 684.52 L581.5 686Z" fill="#fff" stroke="#000" stroke-width="2.9" />
<path d="M34 677 L34.09 678.24 L34.37 679.47 L34.83 680.7 L35.48 681.93 L36.31 683.16 L37.32 684.38 L38.51 685.6 L39.89 686.81 L41.45 688.02 L43.18 689.22 L45.1 690.41 L47.19 691.59 L49.46 692.76 L51.9 693.91 L54.51 695.06 L57.3 696.2 L60.25 697.32 L63.37 698.43 L66.66 699.52 L70.11 700.6 L73.71 701.66 L77.48 702.71 L81.4 703.73 L85.47 704.74 L89.69 705.73 L94.06 706.7 L98.57 707.65 L103.22 708.58 L108.01 709.49 L112.93 710.38 L117.99 711.24 L123.17 712.08 L128.47 712.89 L133.9 713.68 L139.44 714.45 L145.09 715.19 L150.85 715.9 L156.72 716.59 L162.69 717.24 L168.75 717.88 L174.91 718.48 L181.15 719.06 L187.48 719.6 L193.88 720.12 L200.37 720.61 L206.92 721.06 L213.54 721.49 L220.22 721.89 L226.96 722.26 L233.75 722.59 L240.59 722.9 L247.47 723.17 L254.39 723.41 L261.34 723.62 L268.32 723.8 L275.33 723.94 L282.36 724.05 L289.4 724.14 L296.45 724.18 L303.5 724.2 L310.55 724.18 L317.6 724.14 L324.64 724.05 L331.67 723.94 L338.68 723.8 L345.66 723.62 L352.61 723.41 L359.53 723.17 L366.41 722.9 L373.25 722.59 L380.04 722.26 L386.78 721.89 L393.46 721.49 L400.08 721.06 L406.63 720.61 L413.12 720.12 L419.52 719.6 L425.85 719.06 L432.09 718.48 L438.25 717.88 L444.31 717.24 L450.28 716.59 L456.15 715.9 L461.91 715.19 L467.56 714.45 L473.1 713.68 L478.53 712.89 L483.83 712.08 L489.01 711.24 L494.07 710.38 L498.99 709.49 L503.78 708.58 L508.43 707.65 L512.94 706.7 L517.31 705.73 L521.53 704.74 L525.6 703.73 L529.52 702.71 L533.29 701.66 L536.89 700.6 L540.34 699.52 L543.63 698.43 L546.75 697.32 L549.7 696.2 L552.49 695.06 L555.1 693.91 L557.54 692.76 L559.81 691.59 L561.9 690.41 L563.82 689.22 L565.55 688.02 L567.11 686.81 L568.49 685.6 L569.68 684.38 L570.69 683.16 L571.52 681.93 L572.17 680.7 L572.63 679.47 L572.91 678.24 L573 677" fill="none" stroke="#000" stroke-width="2.8" />
<line x1="303.7" y1="620.3" x2="303.7" y2="638.4" stroke="#000" stroke-width="2.9" stroke-linecap="round"/>
<line x1="303.7" y1="658" x2="303.7" y2="667" stroke="#000" stroke-width="2.9" stroke-linecap="round"/>
<polyline points="284.5,667.5 303.8,686.5 323.3,667.5" fill="none" stroke="#000" stroke-width="3.0"/>
<line x1="605.5" y1="44.5" x2="614.5" y2="44.5" stroke="#000" stroke-width="3.0" stroke-linecap="round"/>
<line x1="635" y1="44.5" x2="655" y2="44.5" stroke="#000" stroke-width="3.0" stroke-linecap="round"/>
<line x1="676.3" y1="44.5" x2="696" y2="44.5" stroke="#000" stroke-width="3.0" stroke-linecap="round"/>
<line x1="717" y1="44.5" x2="737.7" y2="44.5" stroke="#000" stroke-width="3.0" stroke-linecap="round"/>
<line x1="758" y1="44.5" x2="778" y2="44.5" stroke="#000" stroke-width="3.0" stroke-linecap="round"/>
<line x1="798.6" y1="44.5" x2="819.2" y2="44.5" stroke="#000" stroke-width="3.0" stroke-linecap="round"/>
<line x1="839.5" y1="44.5" x2="850.7" y2="44.5" stroke="#000" stroke-width="3.0" stroke-linecap="round"/>
<line x1="592.5" y1="413.75" x2="601.5" y2="413.75" stroke="#000" stroke-width="3.0" stroke-linecap="round"/>
<line x1="619.75" y1="413.75" x2="639" y2="413.75" stroke="#000" stroke-width="3.0" stroke-linecap="round"/>
<line x1="656.75" y1="413.75" x2="675.25" y2="413.75" stroke="#000" stroke-width="3.0" stroke-linecap="round"/>
<line x1="693.5" y1="413.75" x2="712.75" y2="413.75" stroke="#000" stroke-width="3.0" stroke-linecap="round"/>
<line x1="730" y1="413.75" x2="749" y2="413.75" stroke="#000" stroke-width="3.0" stroke-linecap="round"/>
<line x1="767" y1="413.75" x2="785" y2="413.75" stroke="#000" stroke-width="3.0" stroke-linecap="round"/>
<line x1="804" y1="413.75" x2="822" y2="413.75" stroke="#000" stroke-width="3.0" stroke-linecap="round"/>
<line x1="840" y1="413.75" x2="850.25" y2="413.75" stroke="#000" stroke-width="3.0" stroke-linecap="round"/>
<line x1="574.5" y1="966.6" x2="583.5" y2="966.6" stroke="#000" stroke-width="3.0" stroke-linecap="round"/>
<line x1="603.6" y1="966.6" x2="623" y2="966.6" stroke="#000" stroke-width="3.0" stroke-linecap="round"/>
<line x1="642.6" y1="966.6" x2="662" y2="966.6" stroke="#000" stroke-width="3.0" stroke-linecap="round"/>
<line x1="682" y1="966.6" x2="702" y2="966.6" stroke="#000" stroke-width="3.0" stroke-linecap="round"/>
<line x1="721.2" y1="966.6" x2="741.6" y2="966.6" stroke="#000" stroke-width="3.0" stroke-linecap="round"/>
<line x1="761" y1="966.6" x2="780.8" y2="966.6" stroke="#000" stroke-width="3.0" stroke-linecap="round"/>
<line x1="800.8" y1="966.6" x2="820" y2="966.6" stroke="#000" stroke-width="3.0" stroke-linecap="round"/>
<line x1="839.8" y1="966.6" x2="850.3" y2="966.6" stroke="#000" stroke-width="3.0" stroke-linecap="round"/>
<line x1="574.5" y1="1418.4" x2="583.5" y2="1418.4" stroke="#000" stroke-width="3.0" stroke-linecap="round"/>
<line x1="603.6" y1="1418.4" x2="623" y2="1418.4" stroke="#000" stroke-width="3.0" stroke-linecap="round"/>
<line x1="642.6" y1="1418.4" x2="662" y2="1418.4" stroke="#000" stroke-width="3.0" stroke-linecap="round"/>
<line x1="682" y1="1418.4" x2="702" y2="1418.4" stroke="#000" stroke-width="3.0" stroke-linecap="round"/>
<line x1="721.2" y1="1418.4" x2="741.6" y2="1418.4" stroke="#000" stroke-width="3.0" stroke-linecap="round"/>
<line x1="761" y1="1418.4" x2="780.8" y2="1418.4" stroke="#000" stroke-width="3.0" stroke-linecap="round"/>
<line x1="800.8" y1="1418.4" x2="820" y2="1418.4" stroke="#000" stroke-width="3.0" stroke-linecap="round"/>
<line x1="839.8" y1="1418.4" x2="850.3" y2="1418.4" stroke="#000" stroke-width="3.0" stroke-linecap="round"/>
<text id="t1" x="882" y="36" font-family="Liberation Sans" font-weight="bold" font-size="49.5" textLength="259" lengthAdjust="spacing">BPA FREE</text>
<text id="t2" x="881.5" y="95.5" font-family="Liberation Sans" font-weight="normal" font-size="52" textLength="213.2" lengthAdjust="spacing" stroke="#fff" stroke-width="1.5" paint-order="stroke">TOP LID</text>
<text id="t3" x="882.7" y="374.5" font-family="Liberation Sans" font-weight="bold" font-size="49.5" textLength="258.4" lengthAdjust="spacing">BPA FREE</text>
<text id="t4" x="881.9" y="434" font-family="Liberation Sans" font-weight="bold" font-size="49.5" textLength="315.2" lengthAdjust="spacing">AIRSCAPE®</text>
<text id="t5" x="880.7" y="492.6" font-family="Liberation Sans" font-weight="normal" font-size="52" textLength="278.8" lengthAdjust="spacing" stroke="#fff" stroke-width="1.5" paint-order="stroke">INNER LID</text>
<text id="t6" x="881.7" y="926.5" font-family="Liberation Sans" font-weight="bold" font-size="49.5" textLength="298" lengthAdjust="spacing">STAINLESS</text>
<text id="t7" x="881.7" y="985.7" font-family="Liberation Sans" font-weight="bold" font-size="49.5" textLength="169" lengthAdjust="spacing">STEEL</text>
<text id="t8" x="881.3" y="1043.8" font-family="Liberation Sans" font-weight="normal" font-size="52" textLength="319.4" lengthAdjust="spacing" stroke="#fff" stroke-width="1.5" paint-order="stroke">CONTAINER</text>
<text id="t9" x="882.7" y="1405.3" font-family="Liberation Sans" font-weight="bold" font-size="49.5" textLength="222.6" lengthAdjust="spacing">RUBBER</text>
<text id="t10" x="882.5" y="1463.8" font-family="Liberation Sans" font-weight="normal" font-size="52" textLength="230.8" lengthAdjust="spacing" stroke="#fff" stroke-width="1.5" paint-order="stroke">BOTTOM</text>
<text id="t11" transform="translate(198.5 1212.5) scale(1.02 1)" x="0" y="0" font-family="Liberation Sans" font-weight="bold" font-size="47" stroke="#000" stroke-width="1.2" filter="url(#gs)"><tspan font-size="40" dy="-6">(</tspan><tspan dy="6">GOODS</tspan><tspan font-size="40" dy="-6">)</tspan></text>
</svg>
</body></html>
